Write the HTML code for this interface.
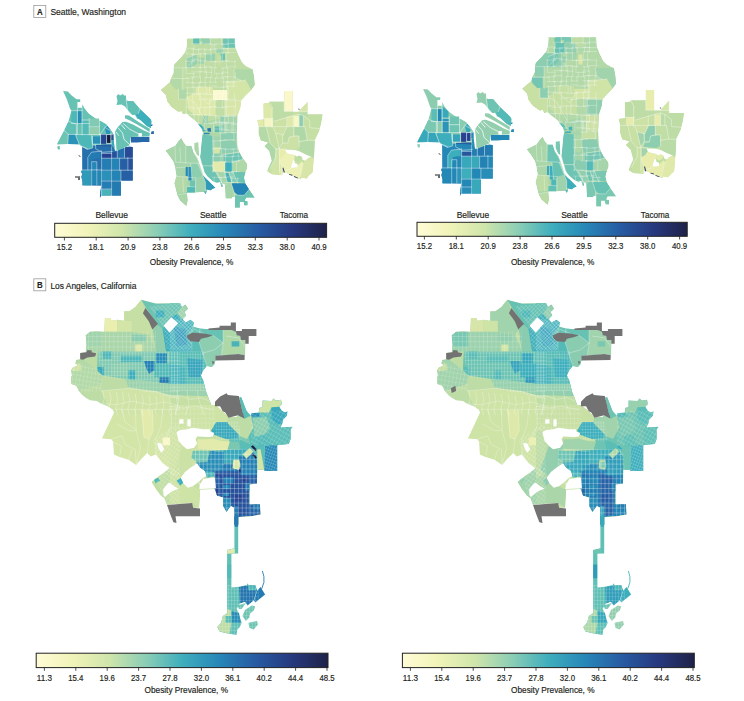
<!DOCTYPE html>
<html><head><meta charset="utf-8"><title>Figure</title>
<style>html,body{margin:0;padding:0;background:#fff}svg{display:block}text{font-family:"Liberation Sans",sans-serif;fill:#231f20;stroke:#231f20;stroke-width:0.18px}</style></head><body>
<svg width="744" height="701" viewBox="0 0 744 701">
<rect width="744" height="701" fill="#fff"/>
<defs><linearGradient id="cb" x1="0" x2="1" y1="0" y2="0">
<stop offset="0.000" stop-color="#fffcd6"/>
<stop offset="0.125" stop-color="#f0f3b8"/>
<stop offset="0.250" stop-color="#cfe5ab"/>
<stop offset="0.375" stop-color="#8bceb5"/>
<stop offset="0.500" stop-color="#3faebd"/>
<stop offset="0.625" stop-color="#2787b8"/>
<stop offset="0.750" stop-color="#275ca3"/>
<stop offset="0.875" stop-color="#27397f"/>
<stop offset="1.000" stop-color="#1f2248"/>
</linearGradient></defs>
<rect x="33.8" y="5.4" width="12" height="12" fill="#fff" stroke="#9a9a9a" stroke-width="0.8"/>
<text x="39.9" y="15.0" font-size="9.6" text-anchor="middle" font-weight="bold" textLength="5.7" lengthAdjust="spacingAndGlyphs">A</text>
<text x="50.4" y="15.1" font-size="9.6" text-anchor="start" textLength="75.7" lengthAdjust="spacingAndGlyphs">Seattle, Washington</text>
<rect x="33.8" y="278.8" width="12" height="12" fill="#fff" stroke="#9a9a9a" stroke-width="0.8"/>
<text x="39.9" y="288.4" font-size="9.6" text-anchor="middle" font-weight="bold" textLength="5.7" lengthAdjust="spacingAndGlyphs">B</text>
<text x="50.4" y="288.5" font-size="9.6" text-anchor="start" textLength="86.0" lengthAdjust="spacingAndGlyphs">Los Angeles, California</text>
<rect x="54.7" y="223.3" width="271.9" height="14.0" fill="url(#cb)" stroke="#222" stroke-width="1"/>
<line x1="64.4" x2="64.4" y1="237.3" y2="240.5" stroke="#222" stroke-width="0.8"/>
<text x="64.4" y="249.6" font-size="8.4" text-anchor="middle" textLength="15.2" lengthAdjust="spacingAndGlyphs">15.2</text>
<line x1="96.2" x2="96.2" y1="237.3" y2="240.5" stroke="#222" stroke-width="0.8"/>
<text x="96.2" y="249.6" font-size="8.4" text-anchor="middle" textLength="15.2" lengthAdjust="spacingAndGlyphs">18.1</text>
<line x1="128.1" x2="128.1" y1="237.3" y2="240.5" stroke="#222" stroke-width="0.8"/>
<text x="128.1" y="249.6" font-size="8.4" text-anchor="middle" textLength="15.2" lengthAdjust="spacingAndGlyphs">20.9</text>
<line x1="159.9" x2="159.9" y1="237.3" y2="240.5" stroke="#222" stroke-width="0.8"/>
<text x="159.9" y="249.6" font-size="8.4" text-anchor="middle" textLength="15.2" lengthAdjust="spacingAndGlyphs">23.8</text>
<line x1="191.7" x2="191.7" y1="237.3" y2="240.5" stroke="#222" stroke-width="0.8"/>
<text x="191.7" y="249.6" font-size="8.4" text-anchor="middle" textLength="15.2" lengthAdjust="spacingAndGlyphs">26.6</text>
<line x1="223.5" x2="223.5" y1="237.3" y2="240.5" stroke="#222" stroke-width="0.8"/>
<text x="223.5" y="249.6" font-size="8.4" text-anchor="middle" textLength="15.2" lengthAdjust="spacingAndGlyphs">29.5</text>
<line x1="255.3" x2="255.3" y1="237.3" y2="240.5" stroke="#222" stroke-width="0.8"/>
<text x="255.3" y="249.6" font-size="8.4" text-anchor="middle" textLength="15.2" lengthAdjust="spacingAndGlyphs">32.3</text>
<line x1="287.2" x2="287.2" y1="237.3" y2="240.5" stroke="#222" stroke-width="0.8"/>
<text x="287.2" y="249.6" font-size="8.4" text-anchor="middle" textLength="15.2" lengthAdjust="spacingAndGlyphs">38.0</text>
<line x1="319.0" x2="319.0" y1="237.3" y2="240.5" stroke="#222" stroke-width="0.8"/>
<text x="319.0" y="249.6" font-size="8.4" text-anchor="middle" textLength="15.2" lengthAdjust="spacingAndGlyphs">40.9</text>
<text x="191.5" y="264.8" font-size="9" text-anchor="middle" textLength="83.5" lengthAdjust="spacingAndGlyphs">Obesity Prevalence, %</text>
<rect x="417.0" y="222.3" width="270.2" height="14.0" fill="url(#cb)" stroke="#222" stroke-width="1"/>
<line x1="424.4" x2="424.4" y1="236.3" y2="239.5" stroke="#222" stroke-width="0.8"/>
<text x="424.4" y="249.2" font-size="8.4" text-anchor="middle" textLength="15.2" lengthAdjust="spacingAndGlyphs">15.2</text>
<line x1="456.3" x2="456.3" y1="236.3" y2="239.5" stroke="#222" stroke-width="0.8"/>
<text x="456.3" y="249.2" font-size="8.4" text-anchor="middle" textLength="15.2" lengthAdjust="spacingAndGlyphs">18.1</text>
<line x1="488.2" x2="488.2" y1="236.3" y2="239.5" stroke="#222" stroke-width="0.8"/>
<text x="488.2" y="249.2" font-size="8.4" text-anchor="middle" textLength="15.2" lengthAdjust="spacingAndGlyphs">20.9</text>
<line x1="520.1" x2="520.1" y1="236.3" y2="239.5" stroke="#222" stroke-width="0.8"/>
<text x="520.1" y="249.2" font-size="8.4" text-anchor="middle" textLength="15.2" lengthAdjust="spacingAndGlyphs">23.8</text>
<line x1="552.0" x2="552.0" y1="236.3" y2="239.5" stroke="#222" stroke-width="0.8"/>
<text x="552.0" y="249.2" font-size="8.4" text-anchor="middle" textLength="15.2" lengthAdjust="spacingAndGlyphs">26.6</text>
<line x1="583.9" x2="583.9" y1="236.3" y2="239.5" stroke="#222" stroke-width="0.8"/>
<text x="583.9" y="249.2" font-size="8.4" text-anchor="middle" textLength="15.2" lengthAdjust="spacingAndGlyphs">29.5</text>
<line x1="615.8" x2="615.8" y1="236.3" y2="239.5" stroke="#222" stroke-width="0.8"/>
<text x="615.8" y="249.2" font-size="8.4" text-anchor="middle" textLength="15.2" lengthAdjust="spacingAndGlyphs">32.3</text>
<line x1="647.7" x2="647.7" y1="236.3" y2="239.5" stroke="#222" stroke-width="0.8"/>
<text x="647.7" y="249.2" font-size="8.4" text-anchor="middle" textLength="15.2" lengthAdjust="spacingAndGlyphs">38.0</text>
<line x1="679.6" x2="679.6" y1="236.3" y2="239.5" stroke="#222" stroke-width="0.8"/>
<text x="679.6" y="249.2" font-size="8.4" text-anchor="middle" textLength="15.2" lengthAdjust="spacingAndGlyphs">40.9</text>
<text x="552.7" y="264.8" font-size="9" text-anchor="middle" textLength="83.5" lengthAdjust="spacingAndGlyphs">Obesity Prevalence, %</text>
<rect x="36.2" y="653.2" width="291.8" height="14.4" fill="url(#cb)" stroke="#222" stroke-width="1"/>
<line x1="44.4" x2="44.4" y1="667.6" y2="670.8" stroke="#222" stroke-width="0.8"/>
<text x="44.4" y="681.3" font-size="8.4" text-anchor="middle" textLength="15.2" lengthAdjust="spacingAndGlyphs">11.3</text>
<line x1="75.8" x2="75.8" y1="667.6" y2="670.8" stroke="#222" stroke-width="0.8"/>
<text x="75.8" y="681.3" font-size="8.4" text-anchor="middle" textLength="15.2" lengthAdjust="spacingAndGlyphs">15.4</text>
<line x1="107.2" x2="107.2" y1="667.6" y2="670.8" stroke="#222" stroke-width="0.8"/>
<text x="107.2" y="681.3" font-size="8.4" text-anchor="middle" textLength="15.2" lengthAdjust="spacingAndGlyphs">19.6</text>
<line x1="138.6" x2="138.6" y1="667.6" y2="670.8" stroke="#222" stroke-width="0.8"/>
<text x="138.6" y="681.3" font-size="8.4" text-anchor="middle" textLength="15.2" lengthAdjust="spacingAndGlyphs">23.7</text>
<line x1="170.0" x2="170.0" y1="667.6" y2="670.8" stroke="#222" stroke-width="0.8"/>
<text x="170.0" y="681.3" font-size="8.4" text-anchor="middle" textLength="15.2" lengthAdjust="spacingAndGlyphs">27.8</text>
<line x1="201.4" x2="201.4" y1="667.6" y2="670.8" stroke="#222" stroke-width="0.8"/>
<text x="201.4" y="681.3" font-size="8.4" text-anchor="middle" textLength="15.2" lengthAdjust="spacingAndGlyphs">32.0</text>
<line x1="232.8" x2="232.8" y1="667.6" y2="670.8" stroke="#222" stroke-width="0.8"/>
<text x="232.8" y="681.3" font-size="8.4" text-anchor="middle" textLength="15.2" lengthAdjust="spacingAndGlyphs">36.1</text>
<line x1="264.2" x2="264.2" y1="667.6" y2="670.8" stroke="#222" stroke-width="0.8"/>
<text x="264.2" y="681.3" font-size="8.4" text-anchor="middle" textLength="15.2" lengthAdjust="spacingAndGlyphs">40.2</text>
<line x1="295.6" x2="295.6" y1="667.6" y2="670.8" stroke="#222" stroke-width="0.8"/>
<text x="295.6" y="681.3" font-size="8.4" text-anchor="middle" textLength="15.2" lengthAdjust="spacingAndGlyphs">44.4</text>
<line x1="327.0" x2="327.0" y1="667.6" y2="670.8" stroke="#222" stroke-width="0.8"/>
<text x="327.0" y="681.3" font-size="8.4" text-anchor="middle" textLength="15.2" lengthAdjust="spacingAndGlyphs">48.5</text>
<text x="186.3" y="692.7" font-size="9" text-anchor="middle" textLength="83.5" lengthAdjust="spacingAndGlyphs">Obesity Prevalence, %</text>
<rect x="402.4" y="653.2" width="291.9" height="14.4" fill="url(#cb)" stroke="#222" stroke-width="1"/>
<line x1="410.4" x2="410.4" y1="667.6" y2="670.8" stroke="#222" stroke-width="0.8"/>
<text x="410.4" y="681.3" font-size="8.4" text-anchor="middle" textLength="15.2" lengthAdjust="spacingAndGlyphs">11.3</text>
<line x1="441.8" x2="441.8" y1="667.6" y2="670.8" stroke="#222" stroke-width="0.8"/>
<text x="441.8" y="681.3" font-size="8.4" text-anchor="middle" textLength="15.2" lengthAdjust="spacingAndGlyphs">15.4</text>
<line x1="473.2" x2="473.2" y1="667.6" y2="670.8" stroke="#222" stroke-width="0.8"/>
<text x="473.2" y="681.3" font-size="8.4" text-anchor="middle" textLength="15.2" lengthAdjust="spacingAndGlyphs">19.6</text>
<line x1="504.6" x2="504.6" y1="667.6" y2="670.8" stroke="#222" stroke-width="0.8"/>
<text x="504.6" y="681.3" font-size="8.4" text-anchor="middle" textLength="15.2" lengthAdjust="spacingAndGlyphs">23.7</text>
<line x1="536.0" x2="536.0" y1="667.6" y2="670.8" stroke="#222" stroke-width="0.8"/>
<text x="536.0" y="681.3" font-size="8.4" text-anchor="middle" textLength="15.2" lengthAdjust="spacingAndGlyphs">27.8</text>
<line x1="567.4" x2="567.4" y1="667.6" y2="670.8" stroke="#222" stroke-width="0.8"/>
<text x="567.4" y="681.3" font-size="8.4" text-anchor="middle" textLength="15.2" lengthAdjust="spacingAndGlyphs">32.0</text>
<line x1="598.8" x2="598.8" y1="667.6" y2="670.8" stroke="#222" stroke-width="0.8"/>
<text x="598.8" y="681.3" font-size="8.4" text-anchor="middle" textLength="15.2" lengthAdjust="spacingAndGlyphs">36.1</text>
<line x1="630.2" x2="630.2" y1="667.6" y2="670.8" stroke="#222" stroke-width="0.8"/>
<text x="630.2" y="681.3" font-size="8.4" text-anchor="middle" textLength="15.2" lengthAdjust="spacingAndGlyphs">40.2</text>
<line x1="661.6" x2="661.6" y1="667.6" y2="670.8" stroke="#222" stroke-width="0.8"/>
<text x="661.6" y="681.3" font-size="8.4" text-anchor="middle" textLength="15.2" lengthAdjust="spacingAndGlyphs">44.4</text>
<line x1="693.0" x2="693.0" y1="667.6" y2="670.8" stroke="#222" stroke-width="0.8"/>
<text x="693.0" y="681.3" font-size="8.4" text-anchor="middle" textLength="15.2" lengthAdjust="spacingAndGlyphs">48.5</text>
<text x="552.8" y="692.7" font-size="9" text-anchor="middle" textLength="83.5" lengthAdjust="spacingAndGlyphs">Obesity Prevalence, %</text>
<text x="111.7" y="217.8" font-size="9" text-anchor="middle" textLength="32.5" lengthAdjust="spacingAndGlyphs">Bellevue</text>
<text x="472.9" y="217.8" font-size="9" text-anchor="middle" textLength="32.5" lengthAdjust="spacingAndGlyphs">Bellevue</text>
<text x="213.2" y="217.8" font-size="9" text-anchor="middle" textLength="26.5" lengthAdjust="spacingAndGlyphs">Seattle</text>
<text x="574.4" y="217.8" font-size="9" text-anchor="middle" textLength="26.5" lengthAdjust="spacingAndGlyphs">Seattle</text>
<text x="293.9" y="217.8" font-size="9" text-anchor="middle" textLength="28.5" lengthAdjust="spacingAndGlyphs">Tacoma</text>
<text x="655.1" y="217.8" font-size="9" text-anchor="middle" textLength="28.5" lengthAdjust="spacingAndGlyphs">Tacoma</text>
<g>
<polygon points="63.1,91.0 67.8,91.4 71.4,95.3 76.4,99.3 80.2,99.3 80.2,102.1 77.4,102.1 77.4,107.8 82.1,107.8 82.5,104.3 84.2,108.1 88.5,113.5 95.6,118.5 101.4,121.4 106.3,124.2 109.9,128.5 112.8,132.8 113.9,140.6 114.5,147.8 82.1,146.6 78.5,144.2 67.8,143.9 57.1,144.3 64.3,130.6 68.5,121.4 71.4,110.7 70.0,108.5 66.8,99.3" fill="#67c2b4"/>
<polygon points="71.4,110.7 77.1,110.7 77.1,123.5 71.4,123.5" fill="#4eb7b8"/>
<polygon points="77.8,110.7 81.7,110.7 81.7,123.5 77.8,123.5" fill="#288eb7"/>
<polygon points="82.5,108.5 88.5,113.5 88.5,120.0 82.5,120.0" fill="#67c2b4"/>
<polygon points="82.5,120.7 88.8,120.7 88.8,134.6 82.5,134.6" fill="#54bab7"/>
<polygon points="89.7,118.5 99.2,118.5 99.2,126.4 89.7,126.4" fill="#82cab1"/>
<polygon points="89.7,127.1 99.2,127.1 99.2,134.9 89.7,134.9" fill="#93cfaf"/>
<polygon points="99.9,120.7 106.3,124.9 104.2,127.8 100.8,134.6 99.9,134.6" fill="#60c0b5"/>
<polygon points="104.9,127.8 107.1,125.7 110.6,130.6 109.9,134.2 106.3,134.2" fill="#2c94b8"/>
<polygon points="68.5,121.4 76.4,124.2 76.4,134.2 68.3,134.2 64.3,130.6" fill="#60c0b5"/>
<polygon points="64.3,130.6 68.3,134.2 67.8,143.9 57.1,144.3" fill="#6ec4b3"/>
<polygon points="68.5,134.6 75.4,134.6 79.2,144.2 67.8,143.9" fill="#2b93b8"/>
<polygon points="76.5,135.2 91.4,135.6 92.8,147.8 87.4,149.5 82.1,146.6 79.2,144.2" fill="#4eb7b8"/>
<polygon points="92.8,136.4 100.2,136.4 100.2,143.8 92.8,143.8" fill="#2a91b8"/>
<polygon points="100.9,134.2 106.5,134.2 106.5,143.8 100.9,143.8" fill="#284593"/>
<polygon points="106.9,134.9 110.6,134.9 110.6,142.9 106.9,142.9" fill="#1c1a3c"/>
<polygon points="111.1,134.2 113.6,134.2 113.6,140.3 111.1,140.3" fill="#27519b"/>
<polygon points="95.6,144.9 111.3,144.2 112.2,151.5 102.1,152.3 95.6,148.8" fill="#275ca3"/>
<polygon points="111.6,140.6 113.6,140.6 115.0,150.9 112.9,151.2" fill="#38a8bb"/>
<polygon points="82.1,145.7 95.6,145.7 112.8,146.4 114.9,150.7 117.8,150.8 124.2,147.8 129.2,146.4 132.7,147.1 132.7,180.6 120.9,180.6 120.9,195.6 101.4,195.6 99.9,198.0 100.2,191.3 101.4,185.9 82.5,185.6 82.5,181.3 81.4,177.1 82.2,174.2 81.1,171.4 82.2,169.9" fill="#256fac"/>
<polygon points="78.5,135.6 91.4,135.6 92.8,147.8 87.4,149.5 82.1,146.6" fill="#4eb7b8"/>
<polygon points="102.1,153.5 111.3,153.5 111.3,157.9 102.1,157.9" fill="#283f8f"/>
<polygon points="112.1,152.1 117.0,152.1 117.0,157.9 112.1,157.9" fill="#27519b"/>
<polygon points="117.8,149.5 124.2,147.8 124.2,157.1 119.9,158.8 117.8,155.7" fill="#256fac"/>
<polygon points="124.9,147.1 132.7,147.1 132.7,157.9 124.9,157.9" fill="#284b97"/>
<polygon points="128.0,157.9 132.7,157.9 132.7,169.9 128.0,169.9" fill="#27519b"/>
<polygon points="119.9,159.2 127.9,159.2 127.9,169.9 119.9,169.9" fill="#275fa5"/>
<polygon points="102.1,158.5 111.3,158.5 111.3,169.9 102.1,169.9" fill="#247eb3"/>
<polygon points="112.1,158.5 119.3,158.5 119.3,169.9 112.1,169.9" fill="#2384b5"/>
<polygon points="102.1,170.6 111.3,170.6 111.3,180.8 102.1,180.8" fill="#2a91b8"/>
<polygon points="112.1,170.6 120.8,170.6 120.8,180.8 112.1,180.8" fill="#2384b5"/>
<polygon points="121.0,170.6 132.7,170.6 132.7,180.6 121.0,180.6" fill="#275fa5"/>
<polygon points="102.1,181.3 111.3,181.3 111.3,188.8 102.1,188.8" fill="#247eb3"/>
<polygon points="101.4,189.3 111.3,189.3 111.3,195.6 101.1,195.6" fill="#48b4ba"/>
<polygon points="112.1,181.3 120.9,181.3 120.9,195.6 112.1,195.6" fill="#247bb1"/>
<polygon points="82.5,169.9 91.4,169.9 91.4,185.6 82.5,185.6 82.5,181.3 81.4,177.1 82.2,174.2 81.1,171.4" fill="#309bb9"/>
<polygon points="92.2,161.7 96.5,161.7 96.5,184.5 92.2,184.5" fill="#2488b6"/>
<polygon points="97.1,169.9 101.4,169.9 101.4,185.0 97.1,185.0" fill="#2488b6"/>
<polygon points="87.8,169.9 87.8,157.4 91.4,152.2 100.6,151.1 100.8,158.2 97.1,158.2 92.8,159.2 91.7,169.9" fill="#247bb1"/>
<polygon points="116.5,96.0 118.5,94.0 120.0,95.5 123.0,94.0 124.0,95.5 126.0,95.5 126.2,100.0 128.0,101.0 133.0,101.0 139.9,109.0 150.4,119.0 151.4,120.9 150.9,127.9 148.9,126.9 146.9,125.9 139.9,119.5 136.9,118.5 135.0,115.0 132.0,115.0 129.0,112.0 125.0,106.5 121.5,104.5 116.5,105.0 117.5,101.0" fill="#67c2b4"/>
<polygon points="126.8,101.5 128.0,101.0 133.0,101.0 139.9,109.0 138.4,113.5 135.0,115.0 132.0,114.5 128.5,110.5" fill="#60c0b5"/>
<polygon points="139.9,109.0 150.4,119.0 151.4,120.9 150.9,127.9 148.9,126.9 146.9,125.9 139.9,119.5 137.1,118.2 135.1,115.0 138.4,113.5" fill="#3caebc"/>
<polygon points="125.0,115.3 129.0,115.6 137.9,121.5 149.9,128.7 149.5,132.1 143.9,128.5 138.9,125.5 130.0,120.5 125.0,118.3" fill="#67c2b4"/>
<polygon points="115.0,131.4 117.5,127.4 122.5,121.9 126.0,121.7 133.0,124.4 143.9,130.4 149.9,132.9 149.4,136.6 130.0,136.9 130.0,144.9 124.0,147.9 116.5,150.9 116.0,140.9" fill="#67c2b4"/>
<polygon points="138.4,133.1 141.9,133.1 141.9,136.6 138.4,136.6" fill="#ffffff"/>
<polygon points="130.5,137.0 149.4,137.0 149.4,141.9 142.9,141.9 136.9,142.5 131.0,142.5" fill="#2668a9"/>
<polygon points="151.4,131.4 153.9,130.9 153.9,133.9 150.9,133.9" fill="#2668a9"/>
<polygon points="150.9,124.7 152.5,124.3 152.3,125.9 150.9,126.1" fill="#2668a9"/>
<polygon points="57.1,146.6 59.7,146.1 60.0,149.2 58.0,149.5" fill="#67c2b4"/>
<path d="M71.4 110.7L82.1 110.7M77.4 107.8L77.4 134.2M82.1 107.8L82.1 134.9M71.4 123.5L89.2 123.5M89.2 118.5L89.2 134.9M99.5 119.2L99.5 134.9M89.2 126.7L99.5 126.7M68.5 121.4L76.4 124.2L76.4 134.6M64.3 130.6L68.3 134.4L67.8 143.9M68.3 134.4L112.8 134.6M75.4 134.6L79.2 144.2M79.2 144.2L82.1 146.6L87.4 149.5L92.8 147.8L91.4 135.6M92.5 136.1L92.5 144.2L100.6 144.2M100.6 134.2L100.6 144.2M106.6 134.6L106.6 143.8L111.3 143.8M110.9 133.5L110.9 143.8M95.6 144.6L95.6 148.8L102.1 152.3L112.2 151.5M82.5 120.0L89.2 120.0M99.9 134.6L104.9 127.5L107.1 125.7M104.9 127.5L110.6 130.6M101.6 150.7L101.6 195.6M111.6 147.1L111.6 195.6M101.6 158.2L132.7 158.2M101.6 170.2L132.7 170.2M101.6 181.1L120.9 181.1M101.6 189.0L111.6 189.0M119.6 158.5L119.6 170.2M127.9 157.4L127.9 170.2M124.5 147.4L124.5 157.4M117.3 150.0L117.3 157.9M101.6 153.4L111.6 153.4M120.9 170.2L120.9 181.1M87.8 169.9L87.8 157.4L91.4 152.2L100.9 151.1M91.7 169.9L91.7 161.7L96.8 161.7L96.8 169.9M82.5 169.9L101.6 169.9M91.7 169.9L91.7 185.6M96.8 169.9L96.8 185.0M82.1 146.4L87.4 148.5" fill="none" stroke="#fff" stroke-width="0.55" stroke-opacity="0.8" stroke-linejoin="round" stroke-linecap="round"/>
<path d="M82.5 185.6L101.6 185.6" fill="none" stroke="#fff" stroke-width="0.4" stroke-opacity="0.8" stroke-linejoin="round" stroke-linecap="round"/>
<path d="M126.2 100.0L127.5 110.0L132.0 115.0M135.0 115.0L137.1 118.2" fill="none" stroke="#fff" stroke-width="0.6" stroke-opacity="0.8" stroke-linejoin="round" stroke-linecap="round"/>
<path d="M138.4 113.5L139.9 109.0" fill="none" stroke="#fff" stroke-width="0.5" stroke-opacity="0.8" stroke-linejoin="round" stroke-linecap="round"/>
<path d="M118.0 127.9L122.5 132.9L124.0 139.4L130.0 144.9M116.0 131.9L118.5 135.4M123.5 123.7L130.0 129.4L138.4 133.7" fill="none" stroke="#fff" stroke-width="0.9" stroke-opacity="0.8" stroke-linejoin="round" stroke-linecap="round"/>
<path d="M121.5 124.9L125.0 129.1" fill="none" stroke="#fff" stroke-width="1.0" stroke-opacity="0.8" stroke-linejoin="round" stroke-linecap="round"/>
<polygon points="75.0,176.3 80.0,176.3 80.0,179.9 78.0,179.9 78.0,177.8 75.0,177.8" fill="#6b6b6b"/>
<polygon points="78.2,155.4 79.1,155.1 80.8,156.8 80.2,157.2" fill="#6b6b6b"/>
</g>
<g>
<polygon points="423.1,89.0 427.8,89.4 431.4,93.3 436.4,97.3 440.2,97.3 440.2,100.1 437.4,100.1 437.4,105.8 442.1,105.8 442.5,102.3 444.2,106.1 448.5,111.5 455.6,116.5 461.4,119.4 466.3,122.2 469.9,126.5 472.8,130.8 473.9,138.6 474.5,145.8 442.1,144.6 438.5,142.2 427.8,141.9 417.1,142.3 424.3,128.6 428.5,119.4 431.4,108.7 430.0,106.5 426.8,97.3" fill="#8ccdb0"/>
<polygon points="431.4,108.7 437.1,108.7 437.1,121.5 431.4,121.5" fill="#5abdb6"/>
<polygon points="437.8,108.7 441.7,108.7 441.7,121.5 437.8,121.5" fill="#2488b6"/>
<polygon points="442.5,106.5 448.5,111.5 448.5,118.0 442.5,118.0" fill="#38a8bb"/>
<polygon points="442.5,118.7 448.8,118.7 448.8,132.6 442.5,132.6" fill="#2c94b8"/>
<polygon points="449.7,116.5 459.2,116.5 459.2,124.4 449.7,124.4" fill="#6ec4b3"/>
<polygon points="449.7,125.1 459.2,125.1 459.2,132.9 449.7,132.9" fill="#6ec4b3"/>
<polygon points="459.9,118.7 466.3,122.9 464.2,125.8 460.8,132.6 459.9,132.6" fill="#89ccb0"/>
<polygon points="464.9,125.8 467.1,123.7 470.6,128.6 469.9,132.2 466.3,132.2" fill="#38a8bb"/>
<polygon points="428.5,119.4 436.4,122.2 436.4,132.2 428.3,132.2 424.3,128.6" fill="#7bc8b2"/>
<polygon points="424.3,128.6 428.3,132.2 427.8,141.9 417.1,142.3" fill="#38a8bb"/>
<polygon points="428.5,132.6 435.4,132.6 439.2,142.2 427.8,141.9" fill="#36a4bb"/>
<polygon points="436.5,133.2 451.4,133.6 452.8,145.8 447.4,147.5 442.1,144.6 439.2,142.2" fill="#3caebc"/>
<polygon points="452.8,134.4 460.2,134.4 460.2,141.8 452.8,141.8" fill="#36a4bb"/>
<polygon points="460.9,132.2 466.5,132.2 466.5,141.8 460.9,141.8" fill="#284291"/>
<polygon points="466.9,132.9 470.6,132.9 470.6,140.9 466.9,140.9" fill="#283f8f"/>
<polygon points="471.1,132.2 473.6,132.2 473.6,138.3 471.1,138.3" fill="#2488b6"/>
<polygon points="455.6,142.9 471.3,142.2 472.2,149.5 462.1,150.3 455.6,146.8" fill="#275ca3"/>
<polygon points="471.6,138.6 473.6,138.6 475.0,148.9 472.9,149.2" fill="#288eb7"/>
<polygon points="442.1,143.7 455.6,143.7 472.8,144.4 474.9,148.7 477.8,148.8 484.2,145.8 489.2,144.4 492.7,145.1 492.7,178.6 480.9,178.6 480.9,193.6 461.4,193.6 459.9,196.0 460.2,189.3 461.4,183.9 442.5,183.6 442.5,179.3 441.4,175.1 442.2,172.2 441.1,169.4 442.2,167.9" fill="#2488b6"/>
<polygon points="438.5,133.6 451.4,133.6 452.8,145.8 447.4,147.5 442.1,144.6" fill="#3caebc"/>
<polygon points="462.1,151.5 471.3,151.5 471.3,155.9 462.1,155.9" fill="#27569f"/>
<polygon points="472.1,150.1 477.0,150.1 477.0,155.9 472.1,155.9" fill="#247bb1"/>
<polygon points="477.8,147.5 484.2,145.8 484.2,155.1 479.9,156.8 477.8,153.7" fill="#2575af"/>
<polygon points="484.9,145.1 492.7,145.1 492.7,155.9 484.9,155.9" fill="#247bb1"/>
<polygon points="488.0,155.9 492.7,155.9 492.7,167.9 488.0,167.9" fill="#2488b6"/>
<polygon points="479.9,157.2 487.9,157.2 487.9,167.9 479.9,167.9" fill="#2381b4"/>
<polygon points="462.1,156.5 471.3,156.5 471.3,167.9 462.1,167.9" fill="#38a8bb"/>
<polygon points="472.1,156.5 479.3,156.5 479.3,167.9 472.1,167.9" fill="#38a8bb"/>
<polygon points="462.1,168.6 471.3,168.6 471.3,178.8 462.1,178.8" fill="#3caebc"/>
<polygon points="472.1,168.6 480.8,168.6 480.8,178.8 472.1,178.8" fill="#2488b6"/>
<polygon points="481.0,168.6 492.7,168.6 492.7,178.6 481.0,178.6" fill="#288eb7"/>
<polygon points="462.1,179.3 471.3,179.3 471.3,186.8 462.1,186.8" fill="#2488b6"/>
<polygon points="461.4,187.3 471.3,187.3 471.3,193.6 461.1,193.6" fill="#288eb7"/>
<polygon points="472.1,179.3 480.9,179.3 480.9,193.6 472.1,193.6" fill="#38a8bb"/>
<polygon points="442.5,167.9 451.4,167.9 451.4,183.6 442.5,183.6 442.5,179.3 441.4,175.1 442.2,172.2 441.1,169.4" fill="#2488b6"/>
<polygon points="452.2,159.7 456.5,159.7 456.5,182.5 452.2,182.5" fill="#2488b6"/>
<polygon points="457.1,167.9 461.4,167.9 461.4,183.0 457.1,183.0" fill="#2c94b8"/>
<polygon points="447.8,167.9 447.8,155.4 451.4,150.2 460.6,149.1 460.8,156.2 457.1,156.2 452.8,157.2 451.7,167.9" fill="#3caebc"/>
<polygon points="476.5,94.0 478.5,92.0 480.0,93.5 483.0,92.0 484.0,93.5 486.0,93.5 486.2,98.0 488.0,99.0 493.0,99.0 499.9,107.0 510.4,117.0 511.4,118.9 510.9,125.9 508.9,124.9 506.9,123.9 499.9,117.5 496.9,116.5 495.0,113.0 492.0,113.0 489.0,110.0 485.0,104.5 481.5,102.5 476.5,103.0 477.5,99.0" fill="#93cfaf"/>
<polygon points="486.8,99.5 488.0,99.0 493.0,99.0 499.9,107.0 498.4,111.5 495.0,113.0 492.0,112.5 488.5,108.5" fill="#6ec4b3"/>
<polygon points="499.9,107.0 510.4,117.0 511.4,118.9 510.9,125.9 508.9,124.9 506.9,123.9 499.9,117.5 497.1,116.2 495.1,113.0 498.4,111.5" fill="#54bab7"/>
<polygon points="485.0,113.3 489.0,113.6 497.9,119.5 509.9,126.7 509.5,130.1 503.9,126.5 498.9,123.5 490.0,118.5 485.0,116.3" fill="#93cfaf"/>
<polygon points="475.0,129.4 477.5,125.4 482.5,119.9 486.0,119.7 493.0,122.4 503.9,128.4 509.9,130.9 509.4,134.6 490.0,134.9 490.0,142.9 484.0,145.9 476.5,148.9 476.0,138.9" fill="#93cfaf"/>
<polygon points="498.4,131.1 501.9,131.1 501.9,134.6 498.4,134.6" fill="#ffffff"/>
<polygon points="490.5,135.0 509.4,135.0 509.4,139.9 502.9,139.9 496.9,140.5 491.0,140.5" fill="#2488b6"/>
<polygon points="511.4,129.4 513.9,128.9 513.9,131.9 510.9,131.9" fill="#2488b6"/>
<polygon points="510.9,122.7 512.5,122.3 512.3,123.9 510.9,124.1" fill="#2488b6"/>
<polygon points="417.1,144.6 419.7,144.1 420.0,147.2 418.0,147.5" fill="#8ccdb0"/>
<path d="M431.4 108.7L442.1 108.7M437.4 105.8L437.4 132.2M442.1 105.8L442.1 132.9M431.4 121.5L449.2 121.5M449.2 116.5L449.2 132.9M459.5 117.2L459.5 132.9M449.2 124.7L459.5 124.7M428.5 119.4L436.4 122.2L436.4 132.6M424.3 128.6L428.3 132.4L427.8 141.9M428.3 132.4L472.8 132.6M435.4 132.6L439.2 142.2M439.2 142.2L442.1 144.6L447.4 147.5L452.8 145.8L451.4 133.6M452.5 134.1L452.5 142.2L460.6 142.2M460.6 132.2L460.6 142.2M466.6 132.6L466.6 141.8L471.3 141.8M470.9 131.5L470.9 141.8M455.6 142.6L455.6 146.8L462.1 150.3L472.2 149.5M442.5 118.0L449.2 118.0M459.9 132.6L464.9 125.5L467.1 123.7M464.9 125.5L470.6 128.6M461.6 148.7L461.6 193.6M471.6 145.1L471.6 193.6M461.6 156.2L492.7 156.2M461.6 168.2L492.7 168.2M461.6 179.1L480.9 179.1M461.6 187.0L471.6 187.0M479.6 156.5L479.6 168.2M487.9 155.4L487.9 168.2M484.5 145.4L484.5 155.4M477.3 148.0L477.3 155.9M461.6 151.4L471.6 151.4M480.9 168.2L480.9 179.1M447.8 167.9L447.8 155.4L451.4 150.2L460.9 149.1M451.7 167.9L451.7 159.7L456.8 159.7L456.8 167.9M442.5 167.9L461.6 167.9M451.7 167.9L451.7 183.6M456.8 167.9L456.8 183.0M442.1 144.4L447.4 146.5" fill="none" stroke="#fff" stroke-width="0.55" stroke-opacity="0.8" stroke-linejoin="round" stroke-linecap="round"/>
<path d="M442.5 183.6L461.6 183.6" fill="none" stroke="#fff" stroke-width="0.4" stroke-opacity="0.8" stroke-linejoin="round" stroke-linecap="round"/>
<path d="M486.2 98.0L487.5 108.0L492.0 113.0M495.0 113.0L497.1 116.2" fill="none" stroke="#fff" stroke-width="0.6" stroke-opacity="0.8" stroke-linejoin="round" stroke-linecap="round"/>
<path d="M498.4 111.5L499.9 107.0" fill="none" stroke="#fff" stroke-width="0.5" stroke-opacity="0.8" stroke-linejoin="round" stroke-linecap="round"/>
<path d="M478.0 125.9L482.5 130.9L484.0 137.4L490.0 142.9M476.0 129.9L478.5 133.4M483.5 121.7L490.0 127.4L498.4 131.7" fill="none" stroke="#fff" stroke-width="0.9" stroke-opacity="0.8" stroke-linejoin="round" stroke-linecap="round"/>
<path d="M481.5 122.9L485.0 127.1" fill="none" stroke="#fff" stroke-width="1.0" stroke-opacity="0.8" stroke-linejoin="round" stroke-linecap="round"/>
<polygon points="435.0,174.3 440.0,174.3 440.0,177.9 438.0,177.9 438.0,175.8 435.0,175.8" fill="#6b6b6b"/>
<polygon points="438.2,153.4 439.1,153.1 440.8,154.8 440.2,155.2" fill="#6b6b6b"/>
</g>
<g><defs><clipPath id="se0">
<polygon points="187.1,38.3 234.9,38.3 235.6,47.8 238.5,55.0 242.0,62.1 245.6,65.7 252.7,69.2 254.2,77.1 254.9,84.9 251.3,89.9 245.6,95.6 241.3,100.6 240.6,107.0 237.7,115.6 237.0,129.9 205.6,129.9 202.8,128.4 199.9,125.6 195.7,121.3 188.5,115.6 186.4,113.5 182.8,114.2 181.4,111.3 178.5,112.0 171.4,107.0 167.1,101.3 165.7,94.9 160.7,89.9 165.0,86.3 170.0,82.1 170.7,78.5 173.6,72.8 173.6,67.8 174.3,64.2 180.0,58.5 183.5,54.3 185.0,52.1 186.8,45.7"/>
<polygon points="197.4,123.6 237.0,115.0 237.0,132.1 237.7,146.4 239.9,152.8 242.7,157.8 247.0,163.5 247.3,167.8 245.6,172.1 244.2,177.8 245.6,183.5 249.2,189.2 254.9,197.7 246.3,197.7 244.9,200.6 247.7,201.3 247.7,205.6 244.2,205.6 243.5,202.0 239.9,202.0 239.9,207.7 234.9,207.7 234.9,197.0 232.0,197.0 232.0,198.5 225.6,198.5 224.9,184.9 222.8,183.5 222.8,187.0 221.3,187.0 219.9,182.0 217.1,183.2 212.8,181.3 207.1,176.3 204.2,172.1 202.8,167.1 201.4,163.5 199.9,157.8 200.7,152.1 201.4,143.5 202.1,137.8 202.8,133.5 201.4,128.6"/>
<polygon points="181.4,137.8 183.5,142.1 186.4,145.7 191.4,145.7 193.5,152.1 197.4,157.8 199.7,163.5 201.7,169.2 203.5,174.9 207.1,179.2 212.8,184.9 215.6,187.8 212.1,189.2 210.6,190.6 207.1,189.9 205.6,194.2 203.5,192.0 195.0,192.7 187.1,192.7 187.8,200.6 186.4,206.3 180.0,200.6 177.1,194.9 176.4,192.0 174.3,183.5 176.4,176.3 175.0,167.8 173.6,162.1 170.0,156.4 165.4,150.4 175.0,145.7 178.5,140.7"/>
<polygon points="194.2,142.8 198.5,142.1 199.2,156.4 196.8,154.9 194.2,149.2"/>
</clipPath></defs><g clip-path="url(#se0)">
<polygon points="187.1,38.3 234.9,38.3 235.6,47.8 238.5,55.0 242.0,62.1 245.6,65.7 252.7,69.2 254.2,77.1 254.9,84.9 251.3,89.9 245.6,95.6 241.3,100.6 240.6,107.0 237.7,115.6 237.0,129.9 205.6,129.9 202.8,128.4 199.9,125.6 195.7,121.3 188.5,115.6 186.4,113.5 182.8,114.2 181.4,111.3 178.5,112.0 171.4,107.0 167.1,101.3 165.7,94.9 160.7,89.9 165.0,86.3 170.0,82.1 170.7,78.5 173.6,72.8 173.6,67.8 174.3,64.2 180.0,58.5 183.5,54.3 185.0,52.1 186.8,45.7" fill="#bfdda5"/>
<polygon points="180.0,58.5 183.5,54.3 201.4,54.3 201.4,68.5 173.6,68.5 174.3,64.2" fill="#bddca6"/>
<polygon points="193.1,38.3 199.4,38.3 199.4,44.3 193.1,44.3" fill="#60c0b5"/>
<polygon points="199.7,38.3 209.9,38.3 209.9,44.3 202.8,44.3 202.8,41.4 199.7,41.4" fill="#93cfaf"/>
<polygon points="210.6,38.3 222.8,38.3 222.8,47.8 210.6,47.8" fill="#b8dba7"/>
<polygon points="223.1,38.3 235.0,38.3 235.0,47.8 223.1,47.8" fill="#6ec4b3"/>
<polygon points="215.6,48.5 224.2,48.5 224.2,52.8 215.6,52.8" fill="#9cd2ad"/>
<polygon points="205.6,53.5 215.1,53.5 215.1,60.8 205.6,60.8" fill="#98d1ae"/>
<polygon points="220.6,53.5 225.0,53.5 225.0,60.8 220.6,60.8" fill="#6ec4b3"/>
<polygon points="187.1,57.8 196.4,54.3 197.4,63.5 190.7,67.8 187.1,67.8" fill="#98d1ae"/>
<polygon points="198.5,57.8 204.5,57.8 204.5,63.7 198.5,63.7" fill="#a1d3ac"/>
<polygon points="193.7,44.3 202.8,44.3 202.8,54.3 193.7,54.3" fill="#bddca6"/>
<polygon points="202.8,44.3 214.9,44.3 214.9,53.5 202.8,53.5" fill="#bddca6"/>
<polygon points="173.6,67.8 182.8,67.8 182.8,77.8 173.6,77.8 173.6,72.8" fill="#b8dba7"/>
<polygon points="170.7,78.5 181.4,78.5 181.4,89.9 175.7,89.2 171.4,84.9 170.0,82.1" fill="#b3d9a8"/>
<polygon points="178.5,89.2 186.4,89.2 186.4,99.2 178.5,99.2" fill="#afd8a9"/>
<polygon points="234.2,69.2 252.7,69.2 254.2,77.1 254.9,84.9 251.3,89.9 245.6,79.9 242.0,81.1 234.2,77.1" fill="#afd8a9"/>
<polygon points="227.0,81.6 241.6,80.8 245.6,79.9 251.3,89.9 245.6,95.6 241.3,100.6 227.0,99.9" fill="#d4e5a8"/>
<polygon points="224.9,100.6 241.3,100.6 240.6,107.0 237.7,115.6 224.9,115.6" fill="#d7e6a8"/>
<polygon points="212.8,89.9 227.0,89.9 227.0,99.9 212.8,99.9" fill="#fbf9cf"/>
<polygon points="195.7,87.1 212.8,87.1 212.8,99.9 215.6,100.6 215.6,115.6 195.7,115.6 188.5,109.9 186.4,97.0 195.7,92.8" fill="#dce9aa"/>
<polygon points="224.9,116.3 237.3,116.3 237.3,129.9 224.9,129.9" fill="#a1d3ac"/>
<polygon points="219.9,116.3 224.5,116.3 224.5,129.9 219.9,129.9" fill="#89ccb0"/>
<polygon points="214.9,127.0 219.5,127.0 219.5,129.9 214.9,129.9" fill="#4eb7b8"/>
<polygon points="160.7,89.9 165.0,86.3 170.0,82.1 171.4,84.9 175.7,89.2 178.5,89.2 178.5,99.2 186.4,99.2 186.4,113.5 182.8,114.2 181.4,111.3 178.5,112.0 171.4,107.0 167.1,101.3 165.7,94.9" fill="#c9e0a5"/>
<polygon points="217.1,55.7 221.3,55.7 221.3,65.7 217.1,65.7" fill="#c6dfa4"/>
<polygon points="197.4,123.6 237.0,115.0 237.0,132.1 237.7,146.4 239.9,152.8 242.7,157.8 247.0,163.5 247.3,167.8 245.6,172.1 244.2,177.8 245.6,183.5 249.2,189.2 254.9,197.7 246.3,197.7 244.9,200.6 247.7,201.3 247.7,205.6 244.2,205.6 243.5,202.0 239.9,202.0 239.9,207.7 234.9,207.7 234.9,197.0 232.0,197.0 232.0,198.5 225.6,198.5 224.9,184.9 222.8,183.5 222.8,187.0 221.3,187.0 219.9,182.0 217.1,183.2 212.8,181.3 207.1,176.3 204.2,172.1 202.8,167.1 201.4,163.5 199.9,157.8 200.7,152.1 201.4,143.5 202.1,137.8 202.8,133.5 201.4,128.6" fill="#afd8a9"/>
<polygon points="224.9,116.4 237.0,116.4 237.0,132.1 224.9,132.1" fill="#a6d5ab"/>
<polygon points="202.1,134.3 212.8,135.7 212.8,149.2 213.6,162.1 212.2,165.8 202.8,165.8 200.2,157.8 201.4,143.5" fill="#6ec4b3"/>
<polygon points="202.8,166.1 212.2,166.1 217.1,174.9 222.2,183.5 222.8,187.0 221.3,187.0 219.9,182.0 217.1,183.2 212.8,181.3 207.1,176.3 204.2,172.1" fill="#6ec4b3"/>
<polygon points="213.5,136.4 219.9,136.4 219.9,148.7 213.5,148.7" fill="#a1d3ac"/>
<polygon points="213.6,149.2 221.3,149.2 222.8,162.1 213.9,162.1" fill="#8eceb0"/>
<polygon points="220.6,132.8 235.9,132.8 235.9,140.1 220.6,140.1" fill="#8eceb0"/>
<polygon points="219.9,140.7 235.6,140.7 237.7,151.4 222.8,154.4 221.3,149.2" fill="#8eceb0"/>
<polygon points="223.5,154.9 239.3,152.4 242.7,159.2 232.0,162.1 223.5,161.5" fill="#6ec4b3"/>
<polygon points="232.8,162.4 242.7,159.5 247.3,164.2 247.0,168.5 245.6,171.5 233.0,171.5" fill="#afd8a9"/>
<polygon points="225.0,162.1 232.2,162.1 232.2,171.5 225.0,171.5" fill="#3caebc"/>
<polygon points="212.8,161.5 225.0,161.5 225.0,171.5 212.8,171.5" fill="#e2ebab"/>
<polygon points="213.9,147.2 219.9,147.2 219.9,153.5 213.9,153.5" fill="#d4e5a8"/>
<polygon points="217.1,172.1 224.9,172.1 227.0,182.0 222.2,183.5" fill="#a6d5ab"/>
<polygon points="224.9,172.8 228.5,172.8 231.3,182.0 227.3,182.0" fill="#48b4ba"/>
<polygon points="229.2,172.1 232.8,172.1 237.0,182.0 232.0,182.0" fill="#82cab1"/>
<polygon points="233.5,172.1 245.6,172.1 244.2,177.8 245.3,182.9 237.0,182.0" fill="#6ec4b3"/>
<polygon points="231.3,183.2 245.3,183.2 249.2,189.2 244.2,195.2 237.7,194.9 234.2,192.0" fill="#2384b5"/>
<polygon points="234.9,194.9 244.2,195.2 249.2,189.5 254.9,197.7 246.3,197.7 244.9,200.6 247.7,201.3 247.7,205.6 244.2,205.6 243.5,202.0 239.9,202.0 239.9,207.7 234.9,207.7" fill="#6ec4b3"/>
<polygon points="224.9,183.5 231.3,183.2 234.2,192.7 234.2,197.5 232.0,198.5 225.6,198.5" fill="#a6d5ab"/>
<polygon points="197.8,123.9 200.3,124.6 202.8,126.4 205.7,130.7 203.5,131.7 201.4,128.5 199.3,126.0" fill="#3caebc"/>
<polygon points="207.1,128.5 210.7,127.8 211.0,131.7 207.8,131.4" fill="#2575af"/>
<polygon points="203.9,132.8 209.6,132.8 209.6,134.2 203.9,134.2" fill="#2488b6"/>
<polygon points="220.0,125.0 223.9,125.0 223.9,132.1 220.0,132.1" fill="#6ec4b3"/>
<polygon points="220.0,116.1 223.9,116.1 223.9,124.3 220.0,124.3" fill="#93cfaf"/>
<polygon points="202.8,115.7 207.8,115.7 207.8,123.5 202.8,123.5" fill="#9cd2ad"/>
<polygon points="214.9,126.4 219.3,126.4 219.3,132.1 214.9,132.1" fill="#5abdb6"/>
<polygon points="219.9,125.0 224.5,125.0 224.5,132.1 219.9,132.1" fill="#89ccb0"/>
<polygon points="181.4,137.8 183.5,142.1 186.4,145.7 191.4,145.7 193.5,152.1 197.4,157.8 199.7,163.5 201.7,169.2 203.5,174.9 207.1,179.2 212.8,184.9 215.6,187.8 212.1,189.2 210.6,190.6 207.1,189.9 205.6,194.2 203.5,192.0 195.0,192.7 187.1,192.7 187.8,200.6 186.4,206.3 180.0,200.6 177.1,194.9 176.4,192.0 174.3,183.5 176.4,176.3 175.0,167.8 173.6,162.1 170.0,156.4 165.4,150.4 175.0,145.7 178.5,140.7" fill="#a6d5ab"/>
<polygon points="194.2,142.8 198.5,142.1 199.2,156.4 196.8,154.9 194.2,149.2" fill="#aad6aa"/>
<polygon points="186.4,145.7 191.4,145.7 193.5,152.1 197.4,157.8 199.7,163.5 190.7,163.5 185.7,163.5" fill="#a1d3ac"/>
<polygon points="185.7,167.1 188.0,167.1 188.0,176.3 185.7,176.3" fill="#2488b6"/>
<polygon points="188.2,167.1 191.7,167.1 191.7,180.6 188.2,180.6" fill="#288eb7"/>
<polygon points="202.8,175.6 207.1,179.2 215.6,187.8 210.6,190.6 205.6,189.2 205.4,182.0" fill="#309bb9"/>
<polygon points="186.4,187.0 195.0,187.0 195.0,192.7 186.4,192.7" fill="#54bab7"/>
<polygon points="190.0,180.6 195.0,180.6 195.0,187.0 190.0,187.0" fill="#6ec4b3"/>
<polygon points="190.7,163.5 197.8,163.5 202.8,175.6 195.7,179.9 192.1,179.9" fill="#8eceb0"/>
<polygon points="195.7,177.8 202.8,176.3 205.4,182.0 205.4,192.0 195.7,192.0" fill="#9cd2ad"/>
<polygon points="175.0,176.3 187.1,176.3 187.1,192.0 177.8,192.7 174.3,183.5" fill="#b3d9a8"/>
<polygon points="165.4,150.4 175.0,145.7 175.7,162.1 173.6,162.1 170.0,156.4" fill="#aad6aa"/>
<polygon points="177.1,194.9 187.1,193.2 187.8,200.6 186.4,206.3 180.0,200.6" fill="#aad6aa"/>
<polygon points="204.2,191.3 207.1,190.6 207.8,194.2 205.6,194.9" fill="#3caebc"/>
<path d="M186.2 38.3L186.2 44.3M186.0 44.3L186.0 48.8M186.8 48.8L186.8 53.5M185.9 60.7L185.9 67.8M186.0 67.8L186.0 72.8M187.9 77.8L187.9 82.8M187.4 87.1L187.4 93.5M187.3 93.5L187.3 99.9M188.3 99.9L188.3 107.7M186.6 115.6L186.6 122.7M193.9 44.3L193.9 48.8M193.3 48.8L193.3 53.5M192.8 53.5L192.8 60.7M192.0 60.7L192.0 67.8M193.6 72.8L193.6 77.8M192.6 77.8L192.6 82.8M193.0 82.8L193.0 87.1M193.9 87.1L193.9 93.5M192.4 93.5L192.4 99.9M193.2 99.9L193.2 107.7M193.7 107.7L193.7 115.6M194.3 115.6L194.3 122.7M200.3 38.3L200.3 44.3M198.5 48.8L198.5 53.5M200.3 53.5L200.3 60.7M200.6 60.7L200.6 67.8M200.2 67.8L200.2 72.8M199.9 72.8L199.9 77.8M200.5 77.8L200.5 82.8M199.6 82.8L199.6 87.1M198.5 87.1L198.5 93.5M200.0 93.5L200.0 99.9M200.5 99.9L200.5 107.7M199.4 107.7L199.4 115.6M198.4 115.6L198.4 122.7M198.8 122.7L198.8 129.9M204.7 48.8L204.7 53.5M205.4 53.5L205.4 60.7M204.6 60.7L204.6 67.8M205.8 67.8L205.8 72.8M206.5 72.8L206.5 77.8M205.1 77.8L205.1 82.8M205.3 82.8L205.3 87.1M206.8 87.1L206.8 93.5M205.0 107.7L205.0 115.6M205.9 115.6L205.9 122.7M204.4 122.7L204.4 129.9M210.3 38.3L210.3 44.3M211.8 44.3L211.8 48.8M210.7 48.8L210.7 53.5M211.1 53.5L211.1 60.7M211.4 67.8L211.4 72.8M211.4 72.8L211.4 77.8M210.4 77.8L210.4 82.8M209.5 87.1L209.5 93.5M209.8 99.9L209.8 107.7M209.5 107.7L209.5 115.6M214.4 44.3L214.4 48.8M215.9 48.8L215.9 53.5M215.2 60.7L215.2 67.8M214.7 67.8L214.7 72.8M216.9 72.8L216.9 77.8M215.6 77.8L215.6 82.8M215.0 93.5L215.0 99.9M214.8 99.9L214.8 107.7M215.7 115.6L215.7 122.7M221.6 38.3L221.6 44.3M224.0 44.3L224.0 48.8M223.3 48.8L223.3 53.5M222.4 53.5L222.4 60.7M222.9 67.8L222.9 72.8M222.3 72.8L222.3 77.8M223.6 77.8L223.6 82.8M223.7 82.8L223.7 87.1M223.6 87.1L223.6 93.5M222.1 93.5L222.1 99.9M222.4 99.9L222.4 107.7M222.1 122.7L222.1 129.9M228.2 38.3L228.2 44.3M228.2 44.3L228.2 48.8M228.2 48.8L228.2 53.5M226.3 53.5L226.3 60.7M226.3 60.7L226.3 67.8M227.4 67.8L227.4 72.8M227.9 72.8L227.9 77.8M227.4 77.8L227.4 82.8M226.0 82.8L226.0 87.1M228.1 87.1L228.1 93.5M227.7 93.5L227.7 99.9M226.2 99.9L226.2 107.7M226.6 107.7L226.6 115.6M228.3 115.6L228.3 122.7M226.8 122.7L226.8 129.9M234.8 38.3L234.8 44.3M235.0 60.7L235.0 67.8M235.4 72.8L235.4 77.8M233.8 77.8L233.8 82.8M233.2 82.8L233.2 87.1M234.6 93.5L234.6 99.9M235.3 99.9L235.3 107.7M235.1 107.7L235.1 115.6M233.4 115.6L233.4 122.7M233.6 122.7L233.6 129.9M185.8 38.5L194.4 38.5M191.8 38.1L200.9 38.1M204.4 37.9L211.9 37.9M209.4 38.5L216.9 38.5M214.4 38.1L224.1 38.1M221.5 38.3L228.3 38.3M225.8 38.3L235.5 38.3M191.8 43.5L200.9 43.5M204.4 43.5L211.9 43.5M209.4 44.8L216.9 44.8M214.4 43.9L224.1 43.9M221.5 44.4L228.3 44.4M225.8 43.4L235.5 43.4M185.8 48.3L194.4 48.3M191.8 49.5L200.9 49.5M198.4 49.0L206.9 49.0M204.4 49.8L211.9 49.8M209.4 49.1L216.9 49.1M214.4 48.9L224.1 48.9M221.5 48.7L228.3 48.7M225.8 48.8L235.5 48.8M185.8 54.0L194.4 54.0M191.8 54.5L200.9 54.5M198.4 53.7L206.9 53.7M204.4 54.3L211.9 54.3M221.5 52.6L228.3 52.6M225.8 52.6L235.5 52.6M185.8 61.3L194.4 61.3M191.8 59.9L200.9 59.9M198.4 61.0L206.9 61.0M209.4 61.7L216.9 61.7M214.4 61.7L224.1 61.7M221.5 60.6L228.3 60.6M225.8 61.4L235.5 61.4M185.8 67.6L194.4 67.6M191.8 67.4L200.9 67.4M198.4 67.4L206.9 67.4M204.4 66.7L211.9 66.7M209.4 67.7L216.9 67.7M221.5 68.1L228.3 68.1M225.8 66.8L235.5 66.8M185.8 73.5L194.4 73.5M191.8 71.9L200.9 71.9M198.4 71.7L206.9 71.7M204.4 72.3L211.9 72.3M214.4 73.7L224.1 73.7M221.5 72.2L228.3 72.2M185.8 78.0L194.4 78.0M191.8 76.9L200.9 76.9M204.4 77.6L211.9 77.6M214.4 78.1L224.1 78.1M221.5 76.8L228.3 76.8M225.8 76.8L235.5 76.8M185.8 82.7L194.4 82.7M191.8 82.9L200.9 82.9M198.4 82.3L206.9 82.3M209.4 82.2L216.9 82.2M221.5 81.8L228.3 81.8M225.8 82.4L235.5 82.4M185.8 87.7L194.4 87.7M191.8 87.1L200.9 87.1M198.4 86.7L206.9 86.7M209.4 86.0L216.9 86.0M214.4 87.2L224.1 87.2M221.5 87.0L228.3 87.0M225.8 86.2L235.5 86.2M185.8 93.3L194.4 93.3M191.8 94.2L200.9 94.2M198.4 93.5L206.9 93.5M204.4 94.6L211.9 94.6M209.4 94.2L216.9 94.2M214.4 93.8L224.1 93.8M221.5 93.1L228.3 93.1M198.4 99.3L206.9 99.3M204.4 99.0L211.9 99.0M209.4 100.7L216.9 100.7M214.4 99.4L224.1 99.4M221.5 99.4L228.3 99.4M225.8 99.1L235.5 99.1M185.8 107.2L194.4 107.2M191.8 108.8L200.9 108.8M198.4 107.2L206.9 107.2M204.4 107.3L211.9 107.3M209.4 106.6L216.9 106.6M214.4 107.7L224.1 107.7M221.5 107.1L228.3 107.1M225.8 106.6L235.5 106.6M185.8 114.7L194.4 114.7M191.8 114.5L200.9 114.5M204.4 115.0L211.9 115.0M209.4 115.7L216.9 115.7M214.4 116.0L224.1 116.0M221.5 116.5L228.3 116.5M225.8 115.2L235.5 115.2M185.8 121.9L194.4 121.9M191.8 123.1L200.9 123.1M204.4 123.6L211.9 123.6M209.4 123.3L216.9 123.3M214.4 121.9L224.1 121.9M221.5 122.7L228.3 122.7M225.8 123.4L235.5 123.4M185.8 130.0L194.4 130.0M191.8 130.3L200.9 130.3M198.4 129.2L206.9 129.2M214.4 129.0L224.1 129.0M221.5 130.0L228.3 130.0M225.8 130.1L235.5 130.1M213.5 123.6L213.5 132.8M214.1 140.7L214.1 149.2M213.6 149.2L213.6 155.7M212.4 155.7L212.4 162.1M212.9 162.1L212.9 172.1M214.1 177.8L214.1 183.2M221.2 123.6L221.2 132.8M220.6 132.8L220.6 140.7M220.6 140.7L220.6 149.2M221.3 149.2L221.3 155.7M221.0 155.7L221.0 162.1M221.3 177.8L221.3 183.2M225.2 123.6L225.2 132.8M225.5 149.2L225.5 155.7M225.5 155.7L225.5 162.1M225.1 162.1L225.1 172.1M225.0 172.1L225.0 177.8M232.0 123.6L232.0 132.8M233.9 132.8L233.9 140.7M233.6 149.2L233.6 155.7M232.6 155.7L232.6 162.1M232.0 162.1L232.0 172.1M232.0 172.1L232.0 177.8M231.8 177.8L231.8 183.2M238.9 123.6L238.9 132.8M237.8 140.7L237.8 149.2M238.3 149.2L238.3 155.7M238.8 155.7L238.8 162.1M236.5 162.1L236.5 172.1M237.6 177.8L237.6 183.2M212.2 122.7L221.9 122.7M219.3 123.1L226.3 123.1M223.8 122.4L234.0 122.4M231.5 124.3L239.0 124.3M219.3 133.3L226.3 133.3M223.8 132.4L234.0 132.4M231.5 132.6L239.0 132.6M212.2 140.9L221.9 140.9M219.3 140.5L226.3 140.5M223.8 139.6L234.0 139.6M212.2 148.7L221.9 148.7M219.3 148.7L226.3 148.7M223.8 149.3L234.0 149.3M231.5 148.9L239.0 148.9M212.2 156.5L221.9 156.5M219.3 156.0L226.3 156.0M223.8 156.7L234.0 156.7M231.5 156.2L239.0 156.2M219.3 162.0L226.3 162.0M223.8 162.4L234.0 162.4M231.5 161.0L239.0 161.0M212.2 171.2L221.9 171.2M219.3 171.7L226.3 171.7M223.8 172.6L234.0 172.6M231.5 171.5L239.0 171.5M212.2 177.3L221.9 177.3M219.3 177.5L226.3 177.5M223.8 177.0L234.0 177.0M231.5 178.7L239.0 178.7M212.2 182.5L221.9 182.5M219.3 184.3L226.3 184.3M223.8 182.4L234.0 182.4M231.5 182.3L239.0 182.3" fill="none" stroke="#fff" stroke-width="0.45" stroke-opacity="0.6" stroke-linejoin="round" stroke-linecap="round"/>
<path d="M234.2 69.2L234.2 77.1L242.0 81.1L245.6 79.9M227.0 81.6L227.0 99.9M224.9 100.6L224.9 129.9M227.0 81.6L241.6 80.8M195.7 92.8L208.5 104.2L215.6 92.8M224.9 100.6L241.3 100.6M187.1 57.8L196.4 54.3M188.5 65.7L195.7 58.5M173.6 67.8L187.1 67.8M170.7 78.5L187.1 78.5M182.8 67.8L182.8 89.9M178.5 89.2L178.5 99.2L186.4 99.2L186.4 113.5M219.9 116.3L219.9 129.9M224.9 116.3L237.3 116.3M186.4 97.0L195.7 104.2L205.6 121.3M222.8 154.4L239.3 152.4M232.0 162.1L242.7 159.5M231.3 183.2L234.2 192.7L234.2 197.5M234.9 194.9L244.2 195.2L249.2 189.2M217.1 172.1L222.2 183.5M224.9 172.8L227.3 182.0M229.2 172.1L232.0 182.0M232.8 172.1L237.0 182.0M212.8 135.7L212.8 149.2L213.6 162.1L212.2 165.8L217.1 174.9L222.2 183.5M202.8 165.9L212.2 165.9M175.0 145.7L175.7 162.1M180.0 147.8L180.7 162.1M185.7 145.7L185.7 163.5M175.7 162.1L199.9 163.5M175.0 167.8L185.7 167.1M176.4 176.3L195.7 177.8M190.7 163.5L192.1 179.9M195.7 177.8L195.7 192.7M182.8 177.8L183.5 192.0M187.1 186.3L195.7 187.0M177.1 194.9L187.1 193.2M197.8 163.5L202.8 175.6L205.4 182.0L205.4 192.0M188.1 167.1L188.1 180.6" fill="none" stroke="#fff" stroke-width="0.5" stroke-opacity="0.6" stroke-linejoin="round" stroke-linecap="round"/>
<path d="M194.0 152.4L197.4 157.8L199.7 163.5L201.7 169.2L203.5 174.9L207.1 179.2" fill="none" stroke="#fff" stroke-width="1.3" stroke-opacity="0.6" stroke-linejoin="round" stroke-linecap="round"/>
<path d="M200.2 157.8L201.4 163.5L202.8 167.1L204.2 172.1L207.1 176.6L212.8 181.8L217.1 183.8" fill="none" stroke="#fff" stroke-width="0.9" stroke-opacity="0.6" stroke-linejoin="round" stroke-linecap="round"/>
</g></g>
<g><defs><clipPath id="se1">
<polygon points="548.4,37.1 596.2,37.1 596.9,46.6 599.8,53.8 603.3,60.9 606.9,64.5 614.0,68.0 615.5,75.9 616.2,83.7 612.6,88.7 606.9,94.4 602.6,99.4 601.9,105.8 599.0,114.4 598.3,128.7 566.9,128.7 564.1,127.2 561.2,124.4 557.0,120.1 549.8,114.4 547.7,112.3 544.1,113.0 542.7,110.1 539.8,110.8 532.7,105.8 528.4,100.1 527.0,93.7 522.0,88.7 526.3,85.1 531.3,80.9 532.0,77.3 534.9,71.6 534.9,66.6 535.6,63.0 541.3,57.3 544.8,53.1 546.3,50.9 548.1,44.5"/>
<polygon points="558.7,122.4 598.3,113.8 598.3,130.9 599.0,145.2 601.2,151.6 604.0,156.6 608.3,162.3 608.6,166.6 606.9,170.9 605.5,176.6 606.9,182.3 610.5,188.0 616.2,196.5 607.6,196.5 606.2,199.4 609.0,200.1 609.0,204.4 605.5,204.4 604.8,200.8 601.2,200.8 601.2,206.5 596.2,206.5 596.2,195.8 593.3,195.8 593.3,197.3 586.9,197.3 586.2,183.7 584.1,182.3 584.1,185.8 582.6,185.8 581.2,180.8 578.4,182.0 574.1,180.1 568.4,175.1 565.5,170.9 564.1,165.9 562.7,162.3 561.2,156.6 562.0,150.9 562.7,142.3 563.4,136.6 564.1,132.3 562.7,127.4"/>
<polygon points="542.7,136.6 544.8,140.9 547.7,144.5 552.7,144.5 554.8,150.9 558.7,156.6 561.0,162.3 563.0,168.0 564.8,173.7 568.4,178.0 574.1,183.7 576.9,186.6 573.4,188.0 571.9,189.4 568.4,188.7 566.9,193.0 564.8,190.8 556.3,191.5 548.4,191.5 549.1,199.4 547.7,205.1 541.3,199.4 538.4,193.7 537.7,190.8 535.6,182.3 537.7,175.1 536.3,166.6 534.9,160.9 531.3,155.2 526.7,149.2 536.3,144.5 539.8,139.5"/>
<polygon points="555.5,141.6 559.8,140.9 560.5,155.2 558.1,153.7 555.5,148.0"/>
</clipPath></defs><g clip-path="url(#se1)">
<polygon points="548.4,37.1 596.2,37.1 596.9,46.6 599.8,53.8 603.3,60.9 606.9,64.5 614.0,68.0 615.5,75.9 616.2,83.7 612.6,88.7 606.9,94.4 602.6,99.4 601.9,105.8 599.0,114.4 598.3,128.7 566.9,128.7 564.1,127.2 561.2,124.4 557.0,120.1 549.8,114.4 547.7,112.3 544.1,113.0 542.7,110.1 539.8,110.8 532.7,105.8 528.4,100.1 527.0,93.7 522.0,88.7 526.3,85.1 531.3,80.9 532.0,77.3 534.9,71.6 534.9,66.6 535.6,63.0 541.3,57.3 544.8,53.1 546.3,50.9 548.1,44.5" fill="#b3d9a8"/>
<polygon points="541.3,57.3 544.8,53.1 562.7,53.1 562.7,67.3 534.9,67.3 535.6,63.0" fill="#8eceb0"/>
<polygon points="554.4,37.1 560.7,37.1 560.7,43.1 554.4,43.1" fill="#6ec4b3"/>
<polygon points="561.0,37.1 571.2,37.1 571.2,43.1 564.1,43.1 564.1,40.2 561.0,40.2" fill="#7bc8b2"/>
<polygon points="571.9,37.1 584.1,37.1 584.1,46.6 571.9,46.6" fill="#bddca6"/>
<polygon points="584.4,37.1 596.3,37.1 596.3,46.6 584.4,46.6" fill="#afd8a9"/>
<polygon points="576.9,47.3 585.5,47.3 585.5,51.6 576.9,51.6" fill="#afd8a9"/>
<polygon points="566.9,52.3 576.4,52.3 576.4,59.6 566.9,59.6" fill="#a1d3ac"/>
<polygon points="581.9,52.3 586.3,52.3 586.3,59.6 581.9,59.6" fill="#afd8a9"/>
<polygon points="548.4,56.6 557.7,53.1 558.7,62.3 552.0,66.6 548.4,66.6" fill="#7bc8b2"/>
<polygon points="559.8,56.6 565.8,56.6 565.8,62.5 559.8,62.5" fill="#93cfaf"/>
<polygon points="555.0,43.1 564.1,43.1 564.1,53.1 555.0,53.1" fill="#67c2b4"/>
<polygon points="564.1,43.1 576.2,43.1 576.2,52.3 564.1,52.3" fill="#93cfaf"/>
<polygon points="534.9,66.6 544.1,66.6 544.1,76.6 534.9,76.6 534.9,71.6" fill="#8eceb0"/>
<polygon points="532.0,77.3 542.7,77.3 542.7,88.7 537.0,88.0 532.7,83.7 531.3,80.9" fill="#74c6b3"/>
<polygon points="539.8,88.0 547.7,88.0 547.7,98.0 539.8,98.0" fill="#8eceb0"/>
<polygon points="595.5,68.0 614.0,68.0 615.5,75.9 616.2,83.7 612.6,88.7 606.9,78.7 603.3,79.9 595.5,75.9" fill="#a1d3ac"/>
<polygon points="588.3,80.4 602.9,79.6 606.9,78.7 612.6,88.7 606.9,94.4 602.6,99.4 588.3,98.7" fill="#d1e4a7"/>
<polygon points="586.2,99.4 602.6,99.4 601.9,105.8 599.0,114.4 586.2,114.4" fill="#93cfaf"/>
<polygon points="574.1,88.7 588.3,88.7 588.3,98.7 574.1,98.7" fill="#d4e5a8"/>
<polygon points="557.0,85.9 574.1,85.9 574.1,98.7 576.9,99.4 576.9,114.4 557.0,114.4 549.8,108.7 547.7,95.8 557.0,91.6" fill="#c6dfa4"/>
<polygon points="586.2,115.1 598.6,115.1 598.6,128.7 586.2,128.7" fill="#cce1a5"/>
<polygon points="581.2,115.1 585.8,115.1 585.8,128.7 581.2,128.7" fill="#b8dba7"/>
<polygon points="576.2,125.8 580.8,125.8 580.8,128.7 576.2,128.7" fill="#afd8a9"/>
<polygon points="522.0,88.7 526.3,85.1 531.3,80.9 532.7,83.7 537.0,88.0 539.8,88.0 539.8,98.0 547.7,98.0 547.7,112.3 544.1,113.0 542.7,110.1 539.8,110.8 532.7,105.8 528.4,100.1 527.0,93.7" fill="#c9e0a5"/>
<polygon points="578.4,54.5 582.6,54.5 582.6,64.5 578.4,64.5" fill="#dae7a9"/>
<polygon points="558.7,122.4 598.3,113.8 598.3,130.9 599.0,145.2 601.2,151.6 604.0,156.6 608.3,162.3 608.6,166.6 606.9,170.9 605.5,176.6 606.9,182.3 610.5,188.0 616.2,196.5 607.6,196.5 606.2,199.4 609.0,200.1 609.0,204.4 605.5,204.4 604.8,200.8 601.2,200.8 601.2,206.5 596.2,206.5 596.2,195.8 593.3,195.8 593.3,197.3 586.9,197.3 586.2,183.7 584.1,182.3 584.1,185.8 582.6,185.8 581.2,180.8 578.4,182.0 574.1,180.1 568.4,175.1 565.5,170.9 564.1,165.9 562.7,162.3 561.2,156.6 562.0,150.9 562.7,142.3 563.4,136.6 564.1,132.3 562.7,127.4" fill="#a6d5ab"/>
<polygon points="586.2,115.2 598.3,115.2 598.3,130.9 586.2,130.9" fill="#cce1a5"/>
<polygon points="563.4,133.1 574.1,134.5 574.1,148.0 574.9,160.9 573.5,164.6 564.1,164.6 561.5,156.6 562.7,142.3" fill="#6ec4b3"/>
<polygon points="564.1,164.9 573.5,164.9 578.4,173.7 583.5,182.3 584.1,185.8 582.6,185.8 581.2,180.8 578.4,182.0 574.1,180.1 568.4,175.1 565.5,170.9" fill="#6ec4b3"/>
<polygon points="574.8,135.2 581.2,135.2 581.2,147.5 574.8,147.5" fill="#afd8a9"/>
<polygon points="574.9,148.0 582.6,148.0 584.1,160.9 575.2,160.9" fill="#a1d3ac"/>
<polygon points="581.9,131.6 597.2,131.6 597.2,138.9 581.9,138.9" fill="#c6dfa4"/>
<polygon points="581.2,139.5 596.9,139.5 599.0,150.2 584.1,153.2 582.6,148.0" fill="#89ccb0"/>
<polygon points="584.8,153.7 600.6,151.2 604.0,158.0 593.3,160.9 584.8,160.3" fill="#74c6b3"/>
<polygon points="594.1,161.2 604.0,158.3 608.6,163.0 608.3,167.3 606.9,170.3 594.3,170.3" fill="#a6d5ab"/>
<polygon points="586.3,160.9 593.5,160.9 593.5,170.3 586.3,170.3" fill="#54bab7"/>
<polygon points="574.1,160.3 586.3,160.3 586.3,170.3 574.1,170.3" fill="#89ccb0"/>
<polygon points="575.2,146.0 581.2,146.0 581.2,152.3 575.2,152.3" fill="#afd8a9"/>
<polygon points="578.4,170.9 586.2,170.9 588.3,180.8 583.5,182.3" fill="#93cfaf"/>
<polygon points="586.2,171.6 589.8,171.6 592.6,180.8 588.6,180.8" fill="#6ec4b3"/>
<polygon points="590.5,170.9 594.1,170.9 598.3,180.8 593.3,180.8" fill="#7bc8b2"/>
<polygon points="594.8,170.9 606.9,170.9 605.5,176.6 606.6,181.7 598.3,180.8" fill="#7bc8b2"/>
<polygon points="592.6,182.0 606.6,182.0 610.5,188.0 605.5,194.0 599.0,193.7 595.5,190.8" fill="#67c2b4"/>
<polygon points="596.2,193.7 605.5,194.0 610.5,188.3 616.2,196.5 607.6,196.5 606.2,199.4 609.0,200.1 609.0,204.4 605.5,204.4 604.8,200.8 601.2,200.8 601.2,206.5 596.2,206.5" fill="#7bc8b2"/>
<polygon points="586.2,182.3 592.6,182.0 595.5,191.5 595.5,196.3 593.3,197.3 586.9,197.3" fill="#7bc8b2"/>
<polygon points="559.1,122.7 561.6,123.4 564.1,125.2 567.0,129.5 564.8,130.5 562.7,127.3 560.6,124.8" fill="#60c0b5"/>
<polygon points="568.4,127.3 572.0,126.6 572.3,130.5 569.1,130.2" fill="#48b4ba"/>
<polygon points="565.2,131.6 570.9,131.6 570.9,133.0 565.2,133.0" fill="#3caebc"/>
<polygon points="581.3,123.8 585.2,123.8 585.2,130.9 581.3,130.9" fill="#afd8a9"/>
<polygon points="581.3,114.9 585.2,114.9 585.2,123.1 581.3,123.1" fill="#b8dba7"/>
<polygon points="564.1,114.5 569.1,114.5 569.1,122.3 564.1,122.3" fill="#afd8a9"/>
<polygon points="576.2,125.2 580.6,125.2 580.6,130.9 576.2,130.9" fill="#afd8a9"/>
<polygon points="581.2,123.8 585.8,123.8 585.8,130.9 581.2,130.9" fill="#b8dba7"/>
<polygon points="542.7,136.6 544.8,140.9 547.7,144.5 552.7,144.5 554.8,150.9 558.7,156.6 561.0,162.3 563.0,168.0 564.8,173.7 568.4,178.0 574.1,183.7 576.9,186.6 573.4,188.0 571.9,189.4 568.4,188.7 566.9,193.0 564.8,190.8 556.3,191.5 548.4,191.5 549.1,199.4 547.7,205.1 541.3,199.4 538.4,193.7 537.7,190.8 535.6,182.3 537.7,175.1 536.3,166.6 534.9,160.9 531.3,155.2 526.7,149.2 536.3,144.5 539.8,139.5" fill="#aad6aa"/>
<polygon points="555.5,141.6 559.8,140.9 560.5,155.2 558.1,153.7 555.5,148.0" fill="#7bc8b2"/>
<polygon points="547.7,144.5 552.7,144.5 554.8,150.9 558.7,156.6 561.0,162.3 552.0,162.3 547.0,162.3" fill="#6ec4b3"/>
<polygon points="547.0,165.9 549.3,165.9 549.3,175.1 547.0,175.1" fill="#38a8bb"/>
<polygon points="549.5,165.9 553.0,165.9 553.0,179.4 549.5,179.4" fill="#3caebc"/>
<polygon points="564.1,174.4 568.4,178.0 576.9,186.6 571.9,189.4 566.9,188.0 566.7,180.8" fill="#3caebc"/>
<polygon points="547.7,185.8 556.3,185.8 556.3,191.5 547.7,191.5" fill="#60c0b5"/>
<polygon points="551.3,179.4 556.3,179.4 556.3,185.8 551.3,185.8" fill="#4eb7b8"/>
<polygon points="552.0,162.3 559.1,162.3 564.1,174.4 557.0,178.7 553.4,178.7" fill="#67c2b4"/>
<polygon points="557.0,176.6 564.1,175.1 566.7,180.8 566.7,190.8 557.0,190.8" fill="#9cd2ad"/>
<polygon points="536.3,175.1 548.4,175.1 548.4,190.8 539.1,191.5 535.6,182.3" fill="#bddca6"/>
<polygon points="526.7,149.2 536.3,144.5 537.0,160.9 534.9,160.9 531.3,155.2" fill="#aad6aa"/>
<polygon points="538.4,193.7 548.4,192.0 549.1,199.4 547.7,205.1 541.3,199.4" fill="#b8dba7"/>
<polygon points="565.5,190.1 568.4,189.4 569.1,193.0 566.9,193.7" fill="#3caebc"/>
<path d="M547.5 37.1L547.5 43.1M547.3 43.1L547.3 47.6M548.1 47.6L548.1 52.3M547.2 59.5L547.2 66.6M547.3 66.6L547.3 71.6M549.2 76.6L549.2 81.6M548.7 85.9L548.7 92.3M548.6 92.3L548.6 98.7M549.6 98.7L549.6 106.5M547.9 114.4L547.9 121.5M555.2 43.1L555.2 47.6M554.6 47.6L554.6 52.3M554.1 52.3L554.1 59.5M553.3 59.5L553.3 66.6M554.9 71.6L554.9 76.6M553.9 76.6L553.9 81.6M554.3 81.6L554.3 85.9M555.2 85.9L555.2 92.3M553.7 92.3L553.7 98.7M554.5 98.7L554.5 106.5M555.0 106.5L555.0 114.4M555.6 114.4L555.6 121.5M561.6 37.1L561.6 43.1M559.8 47.6L559.8 52.3M561.6 52.3L561.6 59.5M561.9 59.5L561.9 66.6M561.5 66.6L561.5 71.6M561.2 71.6L561.2 76.6M561.8 76.6L561.8 81.6M560.9 81.6L560.9 85.9M559.8 85.9L559.8 92.3M561.3 92.3L561.3 98.7M561.8 98.7L561.8 106.5M560.7 106.5L560.7 114.4M559.7 114.4L559.7 121.5M560.1 121.5L560.1 128.7M566.0 47.6L566.0 52.3M566.7 52.3L566.7 59.5M565.9 59.5L565.9 66.6M567.1 66.6L567.1 71.6M567.8 71.6L567.8 76.6M566.4 76.6L566.4 81.6M566.6 81.6L566.6 85.9M568.1 85.9L568.1 92.3M566.3 106.5L566.3 114.4M567.2 114.4L567.2 121.5M565.7 121.5L565.7 128.7M571.6 37.1L571.6 43.1M573.1 43.1L573.1 47.6M572.0 47.6L572.0 52.3M572.4 52.3L572.4 59.5M572.7 66.6L572.7 71.6M572.7 71.6L572.7 76.6M571.7 76.6L571.7 81.6M570.8 85.9L570.8 92.3M571.1 98.7L571.1 106.5M570.8 106.5L570.8 114.4M575.7 43.1L575.7 47.6M577.2 47.6L577.2 52.3M576.5 59.5L576.5 66.6M576.0 66.6L576.0 71.6M578.2 71.6L578.2 76.6M576.9 76.6L576.9 81.6M576.3 92.3L576.3 98.7M576.1 98.7L576.1 106.5M577.0 114.4L577.0 121.5M582.9 37.1L582.9 43.1M585.3 43.1L585.3 47.6M584.6 47.6L584.6 52.3M583.7 52.3L583.7 59.5M584.2 66.6L584.2 71.6M583.6 71.6L583.6 76.6M584.9 76.6L584.9 81.6M585.0 81.6L585.0 85.9M584.9 85.9L584.9 92.3M583.4 92.3L583.4 98.7M583.7 98.7L583.7 106.5M583.4 121.5L583.4 128.7M589.5 37.1L589.5 43.1M589.5 43.1L589.5 47.6M589.5 47.6L589.5 52.3M587.6 52.3L587.6 59.5M587.6 59.5L587.6 66.6M588.7 66.6L588.7 71.6M589.2 71.6L589.2 76.6M588.7 76.6L588.7 81.6M587.3 81.6L587.3 85.9M589.4 85.9L589.4 92.3M589.0 92.3L589.0 98.7M587.5 98.7L587.5 106.5M587.9 106.5L587.9 114.4M589.6 114.4L589.6 121.5M588.1 121.5L588.1 128.7M596.1 37.1L596.1 43.1M596.3 59.5L596.3 66.6M596.7 71.6L596.7 76.6M595.1 76.6L595.1 81.6M594.5 81.6L594.5 85.9M595.9 92.3L595.9 98.7M596.6 98.7L596.6 106.5M596.4 106.5L596.4 114.4M594.7 114.4L594.7 121.5M594.9 121.5L594.9 128.7M547.1 37.3L555.7 37.3M553.1 36.9L562.2 36.9M565.7 36.7L573.2 36.7M570.7 37.3L578.2 37.3M575.7 36.9L585.4 36.9M582.8 37.1L589.6 37.1M587.1 37.1L596.8 37.1M553.1 42.3L562.2 42.3M565.7 42.3L573.2 42.3M570.7 43.6L578.2 43.6M575.7 42.7L585.4 42.7M582.8 43.2L589.6 43.2M587.1 42.2L596.8 42.2M547.1 47.1L555.7 47.1M553.1 48.3L562.2 48.3M559.7 47.8L568.2 47.8M565.7 48.6L573.2 48.6M570.7 47.9L578.2 47.9M575.7 47.7L585.4 47.7M582.8 47.5L589.6 47.5M587.1 47.6L596.8 47.6M547.1 52.8L555.7 52.8M553.1 53.3L562.2 53.3M559.7 52.5L568.2 52.5M565.7 53.1L573.2 53.1M582.8 51.4L589.6 51.4M587.1 51.4L596.8 51.4M547.1 60.1L555.7 60.1M553.1 58.7L562.2 58.7M559.7 59.8L568.2 59.8M570.7 60.5L578.2 60.5M575.7 60.5L585.4 60.5M582.8 59.4L589.6 59.4M587.1 60.2L596.8 60.2M547.1 66.4L555.7 66.4M553.1 66.2L562.2 66.2M559.7 66.2L568.2 66.2M565.7 65.5L573.2 65.5M570.7 66.5L578.2 66.5M582.8 66.9L589.6 66.9M587.1 65.6L596.8 65.6M547.1 72.3L555.7 72.3M553.1 70.7L562.2 70.7M559.7 70.5L568.2 70.5M565.7 71.1L573.2 71.1M575.7 72.5L585.4 72.5M582.8 71.0L589.6 71.0M547.1 76.8L555.7 76.8M553.1 75.7L562.2 75.7M565.7 76.4L573.2 76.4M575.7 76.9L585.4 76.9M582.8 75.6L589.6 75.6M587.1 75.6L596.8 75.6M547.1 81.5L555.7 81.5M553.1 81.7L562.2 81.7M559.7 81.1L568.2 81.1M570.7 81.0L578.2 81.0M582.8 80.6L589.6 80.6M587.1 81.2L596.8 81.2M547.1 86.5L555.7 86.5M553.1 85.9L562.2 85.9M559.7 85.5L568.2 85.5M570.7 84.8L578.2 84.8M575.7 86.0L585.4 86.0M582.8 85.8L589.6 85.8M587.1 85.0L596.8 85.0M547.1 92.1L555.7 92.1M553.1 93.0L562.2 93.0M559.7 92.3L568.2 92.3M565.7 93.4L573.2 93.4M570.7 93.0L578.2 93.0M575.7 92.6L585.4 92.6M582.8 91.9L589.6 91.9M559.7 98.1L568.2 98.1M565.7 97.8L573.2 97.8M570.7 99.5L578.2 99.5M575.7 98.2L585.4 98.2M582.8 98.2L589.6 98.2M587.1 97.9L596.8 97.9M547.1 106.0L555.7 106.0M553.1 107.6L562.2 107.6M559.7 106.0L568.2 106.0M565.7 106.1L573.2 106.1M570.7 105.4L578.2 105.4M575.7 106.5L585.4 106.5M582.8 105.9L589.6 105.9M587.1 105.4L596.8 105.4M547.1 113.5L555.7 113.5M553.1 113.3L562.2 113.3M565.7 113.8L573.2 113.8M570.7 114.5L578.2 114.5M575.7 114.8L585.4 114.8M582.8 115.3L589.6 115.3M587.1 114.0L596.8 114.0M547.1 120.7L555.7 120.7M553.1 121.9L562.2 121.9M565.7 122.4L573.2 122.4M570.7 122.1L578.2 122.1M575.7 120.7L585.4 120.7M582.8 121.5L589.6 121.5M587.1 122.2L596.8 122.2M547.1 128.8L555.7 128.8M553.1 129.1L562.2 129.1M559.7 128.0L568.2 128.0M575.7 127.8L585.4 127.8M582.8 128.8L589.6 128.8M587.1 128.9L596.8 128.9M574.8 122.4L574.8 131.6M575.4 139.5L575.4 148.0M574.9 148.0L574.9 154.5M573.7 154.5L573.7 160.9M574.2 160.9L574.2 170.9M575.4 176.6L575.4 182.0M582.5 122.4L582.5 131.6M581.9 131.6L581.9 139.5M581.9 139.5L581.9 148.0M582.6 148.0L582.6 154.5M582.3 154.5L582.3 160.9M582.6 176.6L582.6 182.0M586.5 122.4L586.5 131.6M586.8 148.0L586.8 154.5M586.8 154.5L586.8 160.9M586.4 160.9L586.4 170.9M586.3 170.9L586.3 176.6M593.3 122.4L593.3 131.6M595.2 131.6L595.2 139.5M594.9 148.0L594.9 154.5M593.9 154.5L593.9 160.9M593.3 160.9L593.3 170.9M593.3 170.9L593.3 176.6M593.1 176.6L593.1 182.0M600.2 122.4L600.2 131.6M599.1 139.5L599.1 148.0M599.6 148.0L599.6 154.5M600.1 154.5L600.1 160.9M597.8 160.9L597.8 170.9M598.9 176.6L598.9 182.0M573.5 121.5L583.2 121.5M580.6 121.9L587.6 121.9M585.1 121.2L595.3 121.2M592.8 123.1L600.3 123.1M580.6 132.1L587.6 132.1M585.1 131.2L595.3 131.2M592.8 131.4L600.3 131.4M573.5 139.7L583.2 139.7M580.6 139.3L587.6 139.3M585.1 138.4L595.3 138.4M573.5 147.5L583.2 147.5M580.6 147.5L587.6 147.5M585.1 148.1L595.3 148.1M592.8 147.7L600.3 147.7M573.5 155.3L583.2 155.3M580.6 154.8L587.6 154.8M585.1 155.5L595.3 155.5M592.8 155.0L600.3 155.0M580.6 160.8L587.6 160.8M585.1 161.2L595.3 161.2M592.8 159.8L600.3 159.8M573.5 170.0L583.2 170.0M580.6 170.5L587.6 170.5M585.1 171.4L595.3 171.4M592.8 170.3L600.3 170.3M573.5 176.1L583.2 176.1M580.6 176.3L587.6 176.3M585.1 175.8L595.3 175.8M592.8 177.5L600.3 177.5M573.5 181.3L583.2 181.3M580.6 183.1L587.6 183.1M585.1 181.2L595.3 181.2M592.8 181.1L600.3 181.1" fill="none" stroke="#fff" stroke-width="0.45" stroke-opacity="0.6" stroke-linejoin="round" stroke-linecap="round"/>
<path d="M595.5 68.0L595.5 75.9L603.3 79.9L606.9 78.7M588.3 80.4L588.3 98.7M586.2 99.4L586.2 128.7M588.3 80.4L602.9 79.6M557.0 91.6L569.8 103.0L576.9 91.6M586.2 99.4L602.6 99.4M548.4 56.6L557.7 53.1M549.8 64.5L557.0 57.3M534.9 66.6L548.4 66.6M532.0 77.3L548.4 77.3M544.1 66.6L544.1 88.7M539.8 88.0L539.8 98.0L547.7 98.0L547.7 112.3M581.2 115.1L581.2 128.7M586.2 115.1L598.6 115.1M547.7 95.8L557.0 103.0L566.9 120.1M584.1 153.2L600.6 151.2M593.3 160.9L604.0 158.3M592.6 182.0L595.5 191.5L595.5 196.3M596.2 193.7L605.5 194.0L610.5 188.0M578.4 170.9L583.5 182.3M586.2 171.6L588.6 180.8M590.5 170.9L593.3 180.8M594.1 170.9L598.3 180.8M574.1 134.5L574.1 148.0L574.9 160.9L573.5 164.6L578.4 173.7L583.5 182.3M564.1 164.7L573.5 164.7M536.3 144.5L537.0 160.9M541.3 146.6L542.0 160.9M547.0 144.5L547.0 162.3M537.0 160.9L561.2 162.3M536.3 166.6L547.0 165.9M537.7 175.1L557.0 176.6M552.0 162.3L553.4 178.7M557.0 176.6L557.0 191.5M544.1 176.6L544.8 190.8M548.4 185.1L557.0 185.8M538.4 193.7L548.4 192.0M559.1 162.3L564.1 174.4L566.7 180.8L566.7 190.8M549.4 165.9L549.4 179.4" fill="none" stroke="#fff" stroke-width="0.5" stroke-opacity="0.6" stroke-linejoin="round" stroke-linecap="round"/>
<path d="M555.3 151.2L558.7 156.6L561.0 162.3L563.0 168.0L564.8 173.7L568.4 178.0" fill="none" stroke="#fff" stroke-width="1.3" stroke-opacity="0.6" stroke-linejoin="round" stroke-linecap="round"/>
<path d="M561.5 156.6L562.7 162.3L564.1 165.9L565.5 170.9L568.4 175.4L574.1 180.6L578.4 182.6" fill="none" stroke="#fff" stroke-width="0.9" stroke-opacity="0.6" stroke-linejoin="round" stroke-linecap="round"/>
</g></g>
<g><defs><clipPath id="bv0"><polygon points="284.2,91.1 292.8,91.1 292.8,111.4 298.5,111.4 307.8,101.4 307.8,114.2 322.7,114.2 321.3,122.8 319.2,131.4 314.9,139.9 314.5,151.3 314.2,155.5 313.8,159.8 312.9,171.4 312.5,172.7 308.7,176.1 306.9,178.7 301.8,177.8 300.9,179.5 298.4,178.7 283.4,171.8 282.1,175.2 271.8,174.4 267.1,171.4 268.9,166.7 271.8,160.7 269.3,151.3 264.3,146.3 267.8,142.8 260.7,140.6 258.6,134.2 258.6,126.4 257.1,119.9 263.5,119.2 263.3,103.5 268.5,102.8 269.3,101.4 284.2,101.4"/></clipPath></defs><g clip-path="url(#bv0)">
<polygon points="284.2,91.1 292.8,91.1 292.8,111.4 298.5,111.4 307.8,101.4 307.8,114.2 322.7,114.2 321.3,122.8 319.2,131.4 314.9,139.9 314.5,151.3 314.2,155.5 313.8,159.8 312.9,171.4 312.5,172.7 308.7,176.1 306.9,178.7 301.8,177.8 300.9,179.5 298.4,178.7 283.4,171.8 282.1,175.2 271.8,174.4 267.1,171.4 268.9,166.7 271.8,160.7 269.3,151.3 264.3,146.3 267.8,142.8 260.7,140.6 258.6,134.2 258.6,126.4 257.1,119.9 263.5,119.2 263.3,103.5 268.5,102.8 269.3,101.4 284.2,101.4" fill="#c6dfa4"/>
<polygon points="284.2,91.1 292.8,91.1 292.8,111.4 284.2,111.4" fill="#faf8cb"/>
<polygon points="263.3,103.5 268.5,102.8 272.1,108.5 272.1,118.5 263.5,118.5" fill="#dce9aa"/>
<polygon points="269.3,101.4 284.2,101.4 284.2,111.4 292.8,111.4 292.8,115.7 273.5,121.4 272.8,108.5" fill="#bddca6"/>
<polygon points="298.5,111.4 307.8,101.4 307.8,111.4" fill="#d4e5a8"/>
<polygon points="298.5,112.1 307.8,112.1 307.8,117.1 303.5,115.7 298.5,114.2" fill="#b8dba7"/>
<polygon points="307.8,114.2 322.7,114.2 321.3,122.8 319.9,127.8 309.9,127.1 309.2,119.9" fill="#c1dea5"/>
<polygon points="299.2,115.0 303.2,115.0 303.2,126.4 299.2,126.4" fill="#8eceb0"/>
<polygon points="293.5,115.7 298.9,115.7 298.9,126.4 293.5,126.4" fill="#f8f7c8"/>
<polygon points="287.1,116.4 293.2,115.7 293.2,126.4 287.1,126.4" fill="#dce9aa"/>
<polygon points="264.3,118.5 272.8,118.5 272.8,126.4 264.3,126.4" fill="#f6f6c5"/>
<polygon points="257.1,119.9 263.5,119.2 263.5,126.4 258.6,126.4" fill="#e2ebab"/>
<polygon points="273.5,121.4 286.7,117.1 286.7,127.1 283.5,134.9 275.7,132.8 273.5,127.1" fill="#cce1a5"/>
<polygon points="258.6,127.1 266.4,127.1 270.0,142.8 260.7,140.6 258.6,134.2" fill="#b6daa7"/>
<polygon points="267.1,127.8 273.5,127.8 275.7,133.5 278.5,147.8 275.7,148.5 270.7,142.8" fill="#c1dea5"/>
<polygon points="276.1,133.5 282.4,134.9 282.8,142.8 279.2,147.8" fill="#c6dfa4"/>
<polygon points="287.1,127.1 293.5,127.1 293.5,136.3 289.2,137.1 287.8,142.8 283.5,142.8 283.2,134.9" fill="#bddca6"/>
<polygon points="294.2,127.1 304.9,127.1 307.1,139.9 299.2,141.3 299.2,135.6 294.2,135.6" fill="#afd8a9"/>
<polygon points="304.2,117.1 309.9,120.7 309.9,127.8 319.9,128.5 314.9,139.9 307.8,139.9 305.6,127.8" fill="#c6dfa4"/>
<polygon points="289.2,137.1 298.5,136.3 298.9,147.0 294.9,149.2 285.7,148.5 282.1,148.2 283.5,143.5 287.8,143.5" fill="#cce1a5"/>
<polygon points="299.2,142.1 307.8,140.6 314.9,140.6 314.2,157.0 307.8,157.0 302.1,154.2 298.5,150.6" fill="#b6daa7"/>
<polygon points="264.3,146.3 267.8,142.8 270.7,143.5 275.7,149.2 275.7,157.0 270.0,168.4 267.1,171.3 267.8,157.0 269.3,151.3" fill="#afd8a9"/>
<polygon points="276.4,149.2 279.2,148.5 279.2,174.2 271.4,172.7 270.0,168.4 275.7,157.7" fill="#cce1a5"/>
<polygon points="280.4,149.6 285.1,149.6 287.3,153.4 290.7,154.3 294.5,155.1 296.7,156.4 294.1,159.8 292.4,162.4 291.5,165.0 291.1,168.0 297.1,167.5 298.0,165.4 301.8,161.5 303.1,163.2 300.9,174.4 299.2,178.7 283.4,171.8 282.1,167.5 279.6,159.8" fill="#edf1b5"/>
<polygon points="294.5,155.5 299.2,155.5 301.8,156.8 300.9,159.8 298.4,161.5 295.0,160.7" fill="#bddca6"/>
<polygon points="303.1,163.2 305.2,160.7 307.4,158.5 311.2,156.8 313.8,159.8 312.9,171.4 308.7,176.1 306.9,178.7 301.8,177.8 300.9,179.5 299.2,178.7 300.9,174.4" fill="#d7e6a8"/>
<polygon points="278.7,148.7 280.4,149.6 279.6,159.8 282.1,167.5 282.1,175.2 278.7,174.8" fill="#dfeaaa"/>
<polygon points="276.1,148.7 278.7,148.7 278.7,174.8 271.8,174.4 271.4,169.2 274.4,160.7" fill="#d1e4a7"/>
<polygon points="280.0,149.1 285.1,149.6 286.4,152.1 283.4,156.4 280.0,158.1" fill="#e8edad"/>
<polygon points="285.1,149.6 294.5,150.0 299.2,151.3 305.2,154.3 311.2,156.8 307.4,158.5 305.2,160.7 302.7,159.8 301.8,156.8 299.2,155.5 296.7,156.4 294.5,155.1 290.7,154.3 287.3,153.4 286.0,151.7" fill="#ffffff"/>
<polygon points="293.2,159.8 294.5,160.7 295.0,163.2 297.1,163.7 298.0,165.4 297.1,167.5 291.1,168.0 291.5,165.0 292.4,162.4" fill="#ffffff"/>
<path d="M272.1 108.5L272.1 127.8M263.5 118.5L272.8 118.5M258.6 126.6L304.9 126.6M273.5 121.4L292.8 115.7L298.5 114.2L303.5 115.7L309.9 120.7L309.9 127.8L319.9 128.5M293.2 115.7L293.2 126.6M299.1 114.2L299.1 126.6M303.3 115.7L303.3 126.6M286.8 117.1L286.8 127.1L283.2 134.9M266.4 127.1L270.0 142.8L275.7 149.2M273.5 127.8L275.7 133.5L279.2 148.2M282.4 134.9L282.8 142.8L279.2 148.2M275.7 133.1L283.2 134.9M293.8 127.1L293.8 136.3L289.2 137.1L287.8 143.2L283.5 143.2M293.8 136.1L298.9 136.1L299.2 147.0M304.9 127.1L307.3 140.2L314.9 140.5M298.9 141.6L307.3 140.2M275.7 149.2L275.7 157.7L270.0 168.4M279.5 148.5L279.5 171.3M275.7 148.8L285.7 149.0M307.8 101.4L307.8 114.2M298.5 111.7L307.8 111.7M279.6 159.8L282.1 167.5L282.1 175.2M303.1 163.2L300.9 174.4L299.2 178.7M291.1 168.0L289.8 169.2L284.7 170.9M272.8 108.5L269.3 101.4M284.2 101.4L284.2 111.4L292.8 111.4" fill="none" stroke="#fff" stroke-width="0.5" stroke-opacity="0.75" stroke-linejoin="round" stroke-linecap="round"/>
</g>
<polygon points="282.5,168.0 283.4,167.5 284.9,172.2 283.8,172.7" fill="#3a4568"/>
<polygon points="289.0,173.9 292.4,174.8 292.2,175.7 289.0,174.8" fill="#3a4568"/>
<polygon points="294.1,176.1 298.0,177.8 297.7,178.5 293.9,176.9" fill="#3a4568"/>
<polygon points="298.4,108.5 299.8,109.1 299.5,109.8 298.4,109.4" fill="#3a4568"/>
</g>
<g><defs><clipPath id="bv1"><polygon points="645.7,89.9 654.3,89.9 654.3,110.2 660.0,110.2 669.3,100.2 669.3,113.0 684.2,113.0 682.8,121.6 680.7,130.2 676.4,138.7 676.0,150.1 675.7,154.3 675.3,158.6 674.4,170.2 674.0,171.5 670.2,174.9 668.4,177.5 663.3,176.6 662.4,178.3 659.9,177.5 644.9,170.6 643.6,174.0 633.3,173.2 628.6,170.2 630.4,165.5 633.3,159.5 630.8,150.1 625.8,145.1 629.3,141.6 622.2,139.4 620.1,133.0 620.1,125.2 618.6,118.7 625.0,118.0 624.8,102.3 630.0,101.6 630.8,100.2 645.7,100.2"/></clipPath></defs><g clip-path="url(#bv1)">
<polygon points="645.7,89.9 654.3,89.9 654.3,110.2 660.0,110.2 669.3,100.2 669.3,113.0 684.2,113.0 682.8,121.6 680.7,130.2 676.4,138.7 676.0,150.1 675.7,154.3 675.3,158.6 674.4,170.2 674.0,171.5 670.2,174.9 668.4,177.5 663.3,176.6 662.4,178.3 659.9,177.5 644.9,170.6 643.6,174.0 633.3,173.2 628.6,170.2 630.4,165.5 633.3,159.5 630.8,150.1 625.8,145.1 629.3,141.6 622.2,139.4 620.1,133.0 620.1,125.2 618.6,118.7 625.0,118.0 624.8,102.3 630.0,101.6 630.8,100.2 645.7,100.2" fill="#c1dea5"/>
<polygon points="645.7,89.9 654.3,89.9 654.3,110.2 645.7,110.2" fill="#e8edad"/>
<polygon points="624.8,102.3 630.0,101.6 633.6,107.3 633.6,117.3 625.0,117.3" fill="#bddca6"/>
<polygon points="630.8,100.2 645.7,100.2 645.7,110.2 654.3,110.2 654.3,114.5 635.0,120.2 634.3,107.3" fill="#bddca6"/>
<polygon points="660.0,110.2 669.3,100.2 669.3,110.2" fill="#d4e5a8"/>
<polygon points="660.0,110.9 669.3,110.9 669.3,115.9 665.0,114.5 660.0,113.0" fill="#c1dea5"/>
<polygon points="669.3,113.0 684.2,113.0 682.8,121.6 681.4,126.6 671.4,125.9 670.7,118.7" fill="#bddca6"/>
<polygon points="660.7,113.8 664.7,113.8 664.7,125.2 660.7,125.2" fill="#b8dba7"/>
<polygon points="655.0,114.5 660.4,114.5 660.4,125.2 655.0,125.2" fill="#e8edad"/>
<polygon points="648.6,115.2 654.7,114.5 654.7,125.2 648.6,125.2" fill="#c6dfa4"/>
<polygon points="625.8,117.3 634.3,117.3 634.3,125.2 625.8,125.2" fill="#e5ecac"/>
<polygon points="618.6,118.7 625.0,118.0 625.0,125.2 620.1,125.2" fill="#c6dfa4"/>
<polygon points="635.0,120.2 648.2,115.9 648.2,125.9 645.0,133.7 637.2,131.6 635.0,125.9" fill="#cce1a5"/>
<polygon points="620.1,125.9 627.9,125.9 631.5,141.6 622.2,139.4 620.1,133.0" fill="#c6dfa4"/>
<polygon points="628.6,126.6 635.0,126.6 637.2,132.3 640.0,146.6 637.2,147.3 632.2,141.6" fill="#c9e0a5"/>
<polygon points="637.6,132.3 643.9,133.7 644.3,141.6 640.7,146.6" fill="#a1d3ac"/>
<polygon points="648.6,125.9 655.0,125.9 655.0,135.1 650.7,135.9 649.3,141.6 645.0,141.6 644.7,133.7" fill="#8eceb0"/>
<polygon points="655.7,125.9 666.4,125.9 668.6,138.7 660.7,140.1 660.7,134.4 655.7,134.4" fill="#c1dea5"/>
<polygon points="665.7,115.9 671.4,119.5 671.4,126.6 681.4,127.3 676.4,138.7 669.3,138.7 667.1,126.6" fill="#bddca6"/>
<polygon points="650.7,135.9 660.0,135.1 660.4,145.8 656.4,148.0 647.2,147.3 643.6,147.0 645.0,142.3 649.3,142.3" fill="#8eceb0"/>
<polygon points="660.7,140.9 669.3,139.4 676.4,139.4 675.7,155.8 669.3,155.8 663.6,153.0 660.0,149.4" fill="#b8dba7"/>
<polygon points="625.8,145.1 629.3,141.6 632.2,142.3 637.2,148.0 637.2,155.8 631.5,167.2 628.6,170.1 629.3,155.8 630.8,150.1" fill="#c1dea5"/>
<polygon points="637.9,148.0 640.7,147.3 640.7,173.0 632.9,171.5 631.5,167.2 637.2,156.5" fill="#cce1a5"/>
<polygon points="641.9,148.4 646.6,148.4 648.8,152.2 652.2,153.1 656.0,153.9 658.2,155.2 655.6,158.6 653.9,161.2 653.0,163.8 652.6,166.8 658.6,166.3 659.5,164.2 663.3,160.3 664.6,162.0 662.4,173.2 660.7,177.5 644.9,170.6 643.6,166.3 641.1,158.6" fill="#e8edad"/>
<polygon points="656.0,154.3 660.7,154.3 663.3,155.6 662.4,158.6 659.9,160.3 656.5,159.5" fill="#e2ebab"/>
<polygon points="664.6,162.0 666.7,159.5 668.9,157.3 672.7,155.6 675.3,158.6 674.4,170.2 670.2,174.9 668.4,177.5 663.3,176.6 662.4,178.3 660.7,177.5 662.4,173.2" fill="#dfeaaa"/>
<polygon points="640.2,147.5 641.9,148.4 641.1,158.6 643.6,166.3 643.6,174.0 640.2,173.6" fill="#d4e5a8"/>
<polygon points="637.6,147.5 640.2,147.5 640.2,173.6 633.3,173.2 632.9,168.0 635.9,159.5" fill="#c9e0a5"/>
<polygon points="641.5,147.9 646.6,148.4 647.9,150.9 644.9,155.2 641.5,156.9" fill="#a1d3ac"/>
<polygon points="646.6,148.4 656.0,148.8 660.7,150.1 666.7,153.1 672.7,155.6 668.9,157.3 666.7,159.5 664.2,158.6 663.3,155.6 660.7,154.3 658.2,155.2 656.0,153.9 652.2,153.1 648.8,152.2 647.5,150.5" fill="#ffffff"/>
<polygon points="654.7,158.6 656.0,159.5 656.5,162.0 658.6,162.5 659.5,164.2 658.6,166.3 652.6,166.8 653.0,163.8 653.9,161.2" fill="#ffffff"/>
<path d="M633.6 107.3L633.6 126.6M625.0 117.3L634.3 117.3M620.1 125.4L666.4 125.4M635.0 120.2L654.3 114.5L660.0 113.0L665.0 114.5L671.4 119.5L671.4 126.6L681.4 127.3M654.7 114.5L654.7 125.4M660.6 113.0L660.6 125.4M664.8 114.5L664.8 125.4M648.3 115.9L648.3 125.9L644.7 133.7M627.9 125.9L631.5 141.6L637.2 148.0M635.0 126.6L637.2 132.3L640.7 147.0M643.9 133.7L644.3 141.6L640.7 147.0M637.2 131.9L644.7 133.7M655.3 125.9L655.3 135.1L650.7 135.9L649.3 142.0L645.0 142.0M655.3 134.9L660.4 134.9L660.7 145.8M666.4 125.9L668.8 139.0L676.4 139.3M660.4 140.4L668.8 139.0M637.2 148.0L637.2 156.5L631.5 167.2M641.0 147.3L641.0 170.1M637.2 147.6L647.2 147.8M669.3 100.2L669.3 113.0M660.0 110.5L669.3 110.5M641.1 158.6L643.6 166.3L643.6 174.0M664.6 162.0L662.4 173.2L660.7 177.5M652.6 166.8L651.3 168.0L646.2 169.7M634.3 107.3L630.8 100.2M645.7 100.2L645.7 110.2L654.3 110.2" fill="none" stroke="#fff" stroke-width="0.5" stroke-opacity="0.75" stroke-linejoin="round" stroke-linecap="round"/>
</g>
<polygon points="644.0,166.8 644.9,166.3 646.4,171.0 645.3,171.5" fill="#3a4568"/>
<polygon points="650.5,172.7 653.9,173.6 653.7,174.5 650.5,173.6" fill="#3a4568"/>
<polygon points="655.6,174.9 659.5,176.6 659.2,177.3 655.4,175.7" fill="#3a4568"/>
<polygon points="659.9,107.3 661.3,107.9 661.0,108.6 659.9,108.2" fill="#3a4568"/>
</g>
<g>
<defs><clipPath id="clipL">
<polygon points="141.3,299.8 155.9,303.6 179.8,303.2 179.8,414.8 114.8,414.8 113.1,409.7 107.9,406.3 101.1,403.7 96.8,401.1 90.0,400.3 85.7,397.7 82.3,395.1 78.8,390.9 76.3,385.7 71.1,384.0 71.1,377.2 72.0,375.5 71.1,370.3 72.8,367.8 78.0,365.2 75.4,363.5 76.3,360.0 80.2,359.2 80.2,352.9 85.7,352.3 86.5,344.6 85.7,335.2 90.0,331.8 96.8,331.3 104.2,331.8 104.9,318.1 110.5,318.1 111.4,320.7 117.3,319.8 124.2,320.7 124.2,311.3 129.3,311.3 135.3,307.0"/>
<polygon points="170.0,303.2 180.3,303.2 182.0,307.0 185.4,304.4 188.0,308.7 184.6,312.1 186.3,315.5 182.8,319.0 185.4,322.4 190.5,319.8 194.0,322.4 193.1,326.7 200.0,328.4 208.5,329.2 231.6,330.1 235.9,331.8 236.8,335.2 240.2,336.1 241.0,339.9 245.3,339.9 245.0,354.9 238.5,354.1 226.5,354.9 215.4,355.8 215.4,360.6 214.5,364.3 211.9,366.9 206.8,366.0 203.4,370.3 200.8,375.5 203.4,380.6 205.9,390.9 208.5,397.7 211.1,404.6 213.7,408.0 215.4,414.8 170.0,414.8"/>
<polygon points="115.6,409.3 179.8,409.3 179.8,502.6 167.0,505.1 164.4,498.3 161.0,495.7 155.9,488.9 151.6,482.0 157.6,476.9 162.7,473.5 169.6,468.3 162.7,463.2 155.9,454.6 150.7,456.4 147.3,452.9 140.5,459.8 136.2,464.9 128.5,459.8 118.2,456.4 113.9,454.6 113.1,441.8 111.4,439.2 101.9,438.4"/>
<polygon points="170.0,405.0 215.4,405.0 229.1,417.3 243.6,416.6 246.2,427.3 257.3,470.0 257.0,483.7 249.6,484.6 249.6,504.3 259.9,504.3 260.7,514.6 250.5,516.3 238.5,517.1 238.5,524.8 234.2,524.8 234.2,507.7 230.8,506.0 226.5,512.0 223.1,506.0 223.1,497.4 217.1,495.7 214.5,488.9 200.0,489.7 200.0,494.0 199.1,507.7 193.1,507.7 192.3,502.9 170.0,504.3"/>
<polygon points="239.4,397.2 241.3,397.2 246.5,410.7 250.9,415.8 251.6,413.2 258.7,412.6 259.3,408.1 262.5,406.8 262.5,400.4 271.5,401.0 273.4,398.5 276.0,400.4 281.1,399.8 281.8,404.3 279.2,406.8 281.8,410.7 285.0,412.6 287.5,411.3 286.9,415.8 283.0,419.7 282.4,423.5 280.5,427.4 292.7,426.7 290.7,429.3 290.7,438.9 288.8,444.1 277.3,445.3 277.3,471.0 264.4,471.0 263.8,469.7 256.7,469.7 256.7,474.9 240.7,474.9 227.8,436.4 238.1,415.2 242.6,412.6"/>
<polygon points="234.4,506.3 238.2,506.3 238.2,553.4 231.4,553.4 231.4,587.6 239.1,586.8 246.8,585.0 247.6,583.3 248.5,585.0 255.3,585.0 257.0,590.2 253.6,600.5 247.6,605.6 245.0,601.8 239.9,603.5 236.5,609.0 239.1,613.3 239.9,617.6 241.6,622.7 239.9,627.0 237.3,629.6 236.5,635.0 226.2,633.3 219.4,631.6 217.3,627.0 221.1,622.7 222.8,615.9 227.1,613.3 227.1,550.0 234.4,548.2"/>
<polygon points="257.0,591.0 260.5,587.1 265.1,594.5 255.3,602.5 254.0,600.5"/>
<polygon points="242.5,615.9 245.0,609.9 251.9,605.6 255.3,606.4 253.6,610.7 250.2,613.3 249.3,617.6 245.9,621.0"/>
<polygon points="248.5,622.7 257.0,621.0 257.9,624.4 253.6,629.6 249.3,627.8"/>
<polygon points="237.3,605.6 245.9,603.0 241.6,609.0 239.1,609.0"/>
</clipPath>
<pattern id="gL_0" width="3.00" height="3.75" patternUnits="userSpaceOnUse" patternTransform="rotate(0)"><path d="M0 0H3.00 M0 0V3.75" stroke="#fff" stroke-width="0.50" stroke-opacity="0.65" fill="none"/></pattern>
<pattern id="gL_1" width="4.20" height="5.25" patternUnits="userSpaceOnUse" patternTransform="rotate(0)"><path d="M0 0H4.20 M0 0V5.25" stroke="#fff" stroke-width="0.50" stroke-opacity="0.60" fill="none"/></pattern>
<pattern id="gL_2" width="2.60" height="3.25" patternUnits="userSpaceOnUse" patternTransform="rotate(45)"><path d="M0 0H2.60 M0 0V3.25" stroke="#fff" stroke-width="0.50" stroke-opacity="0.60" fill="none"/></pattern>
<pattern id="gL_3" width="2.00" height="2.50" patternUnits="userSpaceOnUse" patternTransform="rotate(45)"><path d="M0 0H2.00 M0 0V2.50" stroke="#fff" stroke-width="0.50" stroke-opacity="0.60" fill="none"/></pattern>
<pattern id="gL_4" width="2.60" height="3.25" patternUnits="userSpaceOnUse" patternTransform="rotate(0)"><path d="M0 0H2.60 M0 0V3.25" stroke="#fff" stroke-width="0.50" stroke-opacity="0.60" fill="none"/></pattern>
<pattern id="gL_5" width="3.90" height="4.88" patternUnits="userSpaceOnUse" patternTransform="rotate(0)"><path d="M0 0H3.90 M0 0V4.88" stroke="#fff" stroke-width="0.70" stroke-opacity="0.80" fill="none"/></pattern>
<pattern id="gL_6" width="2.60" height="3.25" patternUnits="userSpaceOnUse" patternTransform="rotate(0)"><path d="M0 0H2.60 M0 0V3.25" stroke="#fff" stroke-width="0.50" stroke-opacity="0.60" fill="none"/></pattern>
<pattern id="gL_7" width="2.40" height="3.00" patternUnits="userSpaceOnUse" patternTransform="rotate(20)"><path d="M0 0H2.40 M0 0V3.00" stroke="#fff" stroke-width="0.50" stroke-opacity="0.60" fill="none"/></pattern>
<pattern id="gL_8" width="3.20" height="4.00" patternUnits="userSpaceOnUse" patternTransform="rotate(30)"><path d="M0 0H3.20 M0 0V4.00" stroke="#fff" stroke-width="0.50" stroke-opacity="0.55" fill="none"/></pattern>
<pattern id="gL_9" width="3.60" height="4.50" patternUnits="userSpaceOnUse" patternTransform="rotate(10)"><path d="M0 0H3.60 M0 0V4.50" stroke="#fff" stroke-width="0.50" stroke-opacity="0.50" fill="none"/></pattern>
<pattern id="gL_10" width="3.40" height="4.25" patternUnits="userSpaceOnUse" patternTransform="rotate(0)"><path d="M0 0H3.40 M0 0V4.25" stroke="#fff" stroke-width="0.50" stroke-opacity="0.50" fill="none"/></pattern>
<pattern id="gL_11" width="3.00" height="3.75" patternUnits="userSpaceOnUse" patternTransform="rotate(35)"><path d="M0 0H3.00 M0 0V3.75" stroke="#fff" stroke-width="0.50" stroke-opacity="0.55" fill="none"/></pattern>
<pattern id="gL_12" width="3.00" height="3.75" patternUnits="userSpaceOnUse" patternTransform="rotate(35)"><path d="M0 0H3.00 M0 0V3.75" stroke="#fff" stroke-width="0.50" stroke-opacity="0.55" fill="none"/></pattern>
<pattern id="gL_13" width="3.80" height="4.75" patternUnits="userSpaceOnUse" patternTransform="rotate(0)"><path d="M0 0H3.80 M0 0V4.75" stroke="#fff" stroke-width="0.50" stroke-opacity="0.45" fill="none"/></pattern>
<pattern id="gL_14" width="3.00" height="3.75" patternUnits="userSpaceOnUse" patternTransform="rotate(0)"><path d="M0 0H3.00 M0 0V3.75" stroke="#fff" stroke-width="0.50" stroke-opacity="0.60" fill="none"/></pattern>
</defs>
<polygon points="141.3,299.8 155.9,303.6 179.8,303.2 179.8,414.8 114.8,414.8 113.1,409.7 107.9,406.3 101.1,403.7 96.8,401.1 90.0,400.3 85.7,397.7 82.3,395.1 78.8,390.9 76.3,385.7 71.1,384.0 71.1,377.2 72.0,375.5 71.1,370.3 72.8,367.8 78.0,365.2 75.4,363.5 76.3,360.0 80.2,359.2 80.2,352.9 85.7,352.3 86.5,344.6 85.7,335.2 90.0,331.8 96.8,331.3 104.2,331.8 104.9,318.1 110.5,318.1 111.4,320.7 117.3,319.8 124.2,320.7 124.2,311.3 129.3,311.3 135.3,307.0" fill="#bddca6"/>
<polygon points="170.0,303.2 180.3,303.2 182.0,307.0 185.4,304.4 188.0,308.7 184.6,312.1 186.3,315.5 182.8,319.0 185.4,322.4 190.5,319.8 194.0,322.4 193.1,326.7 200.0,328.4 208.5,329.2 231.6,330.1 235.9,331.8 236.8,335.2 240.2,336.1 241.0,339.9 245.3,339.9 245.0,354.9 238.5,354.1 226.5,354.9 215.4,355.8 215.4,360.6 214.5,364.3 211.9,366.9 206.8,366.0 203.4,370.3 200.8,375.5 203.4,380.6 205.9,390.9 208.5,397.7 211.1,404.6 213.7,408.0 215.4,414.8 170.0,414.8" fill="#6ec4b3"/>
<polygon points="115.6,409.3 179.8,409.3 179.8,502.6 167.0,505.1 164.4,498.3 161.0,495.7 155.9,488.9 151.6,482.0 157.6,476.9 162.7,473.5 169.6,468.3 162.7,463.2 155.9,454.6 150.7,456.4 147.3,452.9 140.5,459.8 136.2,464.9 128.5,459.8 118.2,456.4 113.9,454.6 113.1,441.8 111.4,439.2 101.9,438.4" fill="#d4e5a8"/>
<polygon points="170.0,405.0 215.4,405.0 229.1,417.3 243.6,416.6 246.2,427.3 257.3,470.0 257.0,483.7 249.6,484.6 249.6,504.3 259.9,504.3 260.7,514.6 250.5,516.3 238.5,517.1 238.5,524.8 234.2,524.8 234.2,507.7 230.8,506.0 226.5,512.0 223.1,506.0 223.1,497.4 217.1,495.7 214.5,488.9 200.0,489.7 200.0,494.0 199.1,507.7 193.1,507.7 192.3,502.9 170.0,504.3" fill="#c6dfa4"/>
<polygon points="239.4,397.2 241.3,397.2 246.5,410.7 250.9,415.8 251.6,413.2 258.7,412.6 259.3,408.1 262.5,406.8 262.5,400.4 271.5,401.0 273.4,398.5 276.0,400.4 281.1,399.8 281.8,404.3 279.2,406.8 281.8,410.7 285.0,412.6 287.5,411.3 286.9,415.8 283.0,419.7 282.4,423.5 280.5,427.4 292.7,426.7 290.7,429.3 290.7,438.9 288.8,444.1 277.3,445.3 277.3,471.0 264.4,471.0 263.8,469.7 256.7,469.7 256.7,474.9 240.7,474.9 227.8,436.4 238.1,415.2 242.6,412.6" fill="#5abdb6"/>
<polygon points="234.4,506.3 238.2,506.3 238.2,553.4 231.4,553.4 231.4,587.6 239.1,586.8 246.8,585.0 247.6,583.3 248.5,585.0 255.3,585.0 257.0,590.2 253.6,600.5 247.6,605.6 245.0,601.8 239.9,603.5 236.5,609.0 239.1,613.3 239.9,617.6 241.6,622.7 239.9,627.0 237.3,629.6 236.5,635.0 226.2,633.3 219.4,631.6 217.3,627.0 221.1,622.7 222.8,615.9 227.1,613.3 227.1,550.0 234.4,548.2" fill="#60c0b5"/>
<polygon points="257.0,591.0 260.5,587.1 265.1,594.5 255.3,602.5 254.0,600.5" fill="#247bb1"/>
<polygon points="242.5,615.9 245.0,609.9 251.9,605.6 255.3,606.4 253.6,610.7 250.2,613.3 249.3,617.6 245.9,621.0" fill="#6ec4b3"/>
<polygon points="248.5,622.7 257.0,621.0 257.9,624.4 253.6,629.6 249.3,627.8" fill="#6ec4b3"/>
<polygon points="237.3,605.6 245.9,603.0 241.6,609.0 239.1,609.0" fill="#6ec4b3"/>
<g clip-path="url(#clipL)">
<polygon points="104.9,318.1 110.5,318.1 111.4,320.7 117.3,319.8 117.3,331.8 104.2,331.8" fill="#eaefaf"/>
<polygon points="117.3,319.8 124.2,320.7 131.9,320.7 131.9,331.8 117.3,331.8" fill="#d4e5a8"/>
<polygon points="124.2,320.7 124.2,311.3 129.3,311.3 135.3,307.0 141.3,299.8 144.7,308.7 143.0,313.8 150.7,323.2 153.3,329.2 149.0,334.4 131.9,331.8 131.9,320.7" fill="#c6dfa4"/>
<polygon points="85.7,335.2 90.0,331.8 104.2,331.8 131.9,331.8 149.0,334.4 155.9,351.5 97.7,351.5 85.7,352.3 86.5,344.6" fill="#aad6aa"/>
<polygon points="85.7,335.2 90.0,331.8 101.9,331.8 101.9,346.4 86.5,346.4" fill="#a1d3ac"/>
<polygon points="131.9,334.4 145.6,335.2 145.6,341.6 131.9,341.2" fill="#89ccb0"/>
<polygon points="135.3,344.6 142.2,344.6 142.2,353.2 135.3,353.2" fill="#dce9aa"/>
<polygon points="141.3,299.8 155.9,303.6 179.8,303.2 179.8,351.5 155.9,351.5 153.3,329.2 157.9,325.0 146.4,308.4" fill="#6ec4b3"/>
<polygon points="153.3,329.2 157.9,325.0 162.7,329.2 166.1,351.5 155.9,351.5" fill="#93cfaf"/>
<polygon points="155.9,310.4 164.4,310.4 164.4,317.3 155.9,317.3" fill="#3caebc"/>
<polygon points="162.7,329.2 171.3,317.3 179.8,312.1 179.8,351.5 166.1,351.5" fill="#3caebc"/>
<polygon points="97.7,351.5 179.8,351.5 179.8,384.0 169.6,384.0 142.2,380.6 125.0,378.9 102.8,375.5 96.8,370.3" fill="#82cab1"/>
<polygon points="102.8,351.5 111.4,351.5 111.4,358.7 102.8,358.7" fill="#4eb7b8"/>
<polygon points="120.8,355.8 142.2,355.8 142.2,362.1 120.8,362.1" fill="#4eb7b8"/>
<polygon points="111.4,363.5 128.5,363.5 128.5,375.5 111.4,375.5" fill="#8eceb0"/>
<polygon points="143.9,360.9 154.5,360.9 154.5,370.3 149.0,373.7 146.4,368.6" fill="#2381b4"/>
<polygon points="155.9,353.2 167.0,353.2 167.0,363.5 155.9,363.5" fill="#288eb7"/>
<polygon points="154.5,363.5 179.8,363.5 179.8,377.2 154.5,377.2" fill="#54bab7"/>
<polygon points="159.3,377.2 169.6,377.2 169.6,383.2 159.3,383.2" fill="#247bb1"/>
<polygon points="128.5,370.3 135.3,370.3 135.3,379.7 128.5,379.7" fill="#3caebc"/>
<polygon points="97.7,366.9 103.7,366.9 103.7,375.5 97.7,375.5" fill="#38a8bb"/>
<polygon points="169.6,351.5 179.8,351.5 179.8,384.0 169.6,384.0" fill="#5abdb6"/>
<polygon points="71.1,360.0 80.2,359.2 83.1,359.7 96.8,370.3 102.8,375.5 101.1,384.0 78.8,390.9 76.3,385.7 71.1,384.0" fill="#b3d9a8"/>
<polygon points="71.1,363.5 80.5,363.5 81.4,370.3 72.0,371.2" fill="#d1e4a7"/>
<polygon points="142.2,380.6 169.6,384.0 179.8,384.0 179.8,397.7 155.9,390.9 128.5,387.4 125.0,378.9" fill="#9cd2ad"/>
<polygon points="101.1,390.9 128.5,388.3 155.9,391.7 179.8,398.6 179.8,414.8 114.8,414.8 113.1,409.7 107.9,406.3" fill="#d1e4a7"/>
<polygon points="182.0,307.0 185.4,304.4 188.0,308.7 184.6,312.1 186.3,315.5 182.8,319.0 176.8,313.8" fill="#a1d3ac"/>
<polygon points="170.0,320.7 182.8,319.0 185.4,322.4 190.5,319.8 194.0,322.4 193.1,326.7 187.1,335.2 187.1,337.8 190.5,341.2 192.3,351.5 180.3,353.2 170.0,351.5" fill="#42b1bb"/>
<polygon points="173.4,325.8 185.4,329.2 187.1,344.6 176.8,346.4" fill="#309bb9"/>
<polygon points="193.1,326.7 200.0,328.4 208.5,329.2 223.1,330.1 223.1,342.9 212.8,335.2 204.2,333.5 192.3,332.7" fill="#67c2b4"/>
<polygon points="199.1,342.1 200.8,338.7 208.5,336.9 212.8,335.2 223.1,342.9 221.4,354.9 215.4,355.8 215.4,360.6 214.5,364.3 211.9,366.9 206.8,366.0 202.5,353.2" fill="#8eceb0"/>
<polygon points="190.5,341.2 199.1,342.1 202.5,353.2 206.8,366.0 203.4,370.3 192.3,351.5" fill="#5abdb6"/>
<polygon points="223.1,330.1 231.6,330.1 235.9,331.8 236.8,335.2 240.2,336.1 241.0,339.9 245.3,339.9 245.0,354.9 238.5,354.1 226.5,354.9 221.4,354.9 223.1,342.9" fill="#afd8a9"/>
<polygon points="231.6,341.2 239.3,341.2 239.3,346.4 231.6,346.4" fill="#48b4ba"/>
<polygon points="170.0,351.5 192.3,351.5 203.4,370.3 200.8,375.5 203.4,380.6 205.9,390.9 170.0,390.9" fill="#5abdb6"/>
<polygon points="187.1,358.3 202.5,360.0 201.7,377.2 188.8,377.2" fill="#36a4bb"/>
<polygon points="170.0,363.5 185.4,366.9 185.4,384.0 170.0,384.0" fill="#48b4ba"/>
<polygon points="170.0,384.0 204.2,384.0 205.9,390.9 208.5,397.7 170.0,397.7" fill="#9cd2ad"/>
<polygon points="170.0,395.1 208.0,396.3 211.1,404.6 213.7,408.0 215.4,414.8 170.0,414.8" fill="#c6dfa4"/>
<polygon points="140.5,410.1 152.4,410.1 153.3,430.7 149.0,439.2 143.9,437.5 142.2,422.1" fill="#e2ebab"/>
<polygon points="162.7,437.5 171.3,437.5 171.3,445.2 162.7,445.2" fill="#f8f7c8"/>
<polygon points="151.6,482.0 157.6,476.9 162.7,473.5 169.6,468.3 179.8,473.5 179.8,502.6 167.0,505.1 164.4,498.3 161.0,495.7 155.9,488.9" fill="#c1dea5"/>
<polygon points="153.7,478.5 158.4,478.1 160.1,480.7 155.4,483.2" fill="#4eb7b8"/>
<polygon points="176.4,478.6 179.8,477.8 179.8,485.5 177.3,484.6" fill="#329eba"/>
<polygon points="169.6,452.9 179.8,449.5 179.8,473.5 173.0,470.0" fill="#d4e5a8"/>
<polygon points="170.0,405.0 215.4,405.0 221.4,409.3 224.8,413.6 229.1,417.3 229.9,422.1 216.2,422.1 211.1,430.7 187.1,429.0 176.0,430.7 170.0,430.7" fill="#cee3a6"/>
<polygon points="170.0,430.7 176.0,430.7 176.8,437.5 180.3,440.9 184.6,447.8 195.7,446.1 194.0,454.6 187.1,464.9 180.3,473.5 170.0,478.6" fill="#d1e4a7"/>
<polygon points="197.4,439.2 206.8,439.2 212.8,438.4 221.4,440.9 229.9,441.5 227.3,450.4 221.4,450.4 197.4,448.7" fill="#e2ebab"/>
<polygon points="229.9,441.5 241.9,441.8 241.9,450.4 227.3,450.4" fill="#7bc8b2"/>
<polygon points="216.2,422.1 237.6,422.1 238.5,437.5 226.5,439.2 214.5,435.0 211.1,430.7" fill="#38a8bb"/>
<polygon points="237.6,422.1 246.2,427.3 250.5,444.4 241.9,441.8 238.5,437.5" fill="#7bc8b2"/>
<polygon points="238.5,439.2 250.5,444.4 255.6,456.4 241.9,456.4" fill="#5abdb6"/>
<polygon points="182.8,445.7 187.1,449.2 194.2,447.8 197.1,443.5 197.1,450.7 192.8,450.7 191.4,457.8 197.1,463.5 191.4,467.1 185.0,472.1 180.7,477.8 174.3,469.2 178.5,457.8" fill="#cce1a5"/>
<polygon points="192.8,450.7 209.9,450.7 207.1,462.1 197.1,462.1 191.4,457.8" fill="#6ec4b3"/>
<polygon points="194.9,462.4 207.1,462.1 209.9,450.7 224.2,452.1 224.2,463.5 215.6,472.1 207.1,477.8 204.9,471.3 199.9,467.8 197.1,463.5" fill="#288eb7"/>
<polygon points="209.9,450.7 249.9,449.2 249.9,463.5 224.2,463.5 224.2,452.1" fill="#38a8bb"/>
<polygon points="215.6,472.1 224.2,463.5 249.9,463.5 249.9,472.1" fill="#247bb1"/>
<polygon points="214.5,470.9 241.9,470.9 257.3,470.0 257.0,483.7 249.6,484.6 249.6,504.3 259.9,504.3 260.7,514.6 250.5,516.3 238.5,517.1 238.5,524.8 234.2,524.8 234.2,507.7 230.8,506.0 226.5,512.0 223.1,506.0 223.1,497.4 217.1,495.7 214.5,488.9" fill="#2762a6"/>
<polygon points="219.6,473.5 238.5,472.6 248.7,476.9 247.9,500.9 235.0,506.0 221.4,494.0" fill="#27519b"/>
<polygon points="233.3,473.5 247.0,476.9 247.9,514.6 235.0,516.3" fill="#27519b"/>
<polygon points="223.1,497.4 230.8,498.3 230.8,506.0 226.5,512.0 223.1,506.0" fill="#288eb7"/>
<polygon points="233.3,459.8 240.2,459.8 239.3,470.0 232.5,468.3" fill="#dfeaaa"/>
<polygon points="238.5,456.4 255.6,456.4 257.3,470.0 241.9,470.9" fill="#2575af"/>
<polygon points="239.3,470.9 242.8,464.9 245.3,467.5 241.9,473.5" fill="#283a89"/>
<polygon points="170.0,478.6 180.3,473.5 187.1,482.0 190.5,485.5 200.0,489.7 200.0,494.0 199.1,507.7 192.3,502.9 170.0,504.3" fill="#cee3a6"/>
<polygon points="176.4,480.7 181.1,477.7 185.4,480.7 180.2,485.4" fill="#3caebc"/>
<polygon points="204.9,471.3 207.1,477.8 214.9,476.3 214.2,472.1" fill="#48b4ba"/>
<polygon points="223.4,477.3 233.2,477.3 233.2,483.2 223.4,483.2" fill="#2381b4"/>
<polygon points="223.0,485.0 229.8,485.0 229.8,489.2 223.0,489.2" fill="#2488b6"/>
<polygon points="223.4,492.7 229.0,492.7 229.0,496.1 223.4,496.1" fill="#2488b6"/>
<polygon points="235.0,495.2 242.7,495.2 242.7,500.4 235.0,500.4" fill="#283f8f"/>
<polygon points="216.1,487.5 218.7,487.5 218.7,495.2 216.1,495.2" fill="#283f8f"/>
<polygon points="238.4,470.0 241.4,467.8 243.1,470.4 240.1,472.5" fill="#26357e"/>
<polygon points="215.3,473.4 220.4,473.4 220.4,476.4 215.3,476.4" fill="#284291"/>
<polygon points="241.8,479.0 245.2,479.0 245.2,481.1 241.8,481.1" fill="#283a89"/>
<polygon points="245.2,483.2 249.5,483.2 249.5,490.9 245.2,490.9" fill="#247bb1"/>
<polygon points="217.0,465.3 222.1,465.3 222.1,469.6 217.0,469.6" fill="#288eb7"/>
<polygon points="252.9,504.2 259.8,504.2 259.8,509.8 252.9,509.8" fill="#247bb1"/>
<polygon points="262.5,400.4 271.5,401.0 273.4,398.5 276.0,400.4 281.1,399.8 281.8,404.3 279.2,406.8 271.5,407.5 268.9,412.6 258.7,412.6 259.3,408.1 262.5,406.8" fill="#cee3a6"/>
<polygon points="271.5,407.5 279.2,406.8 281.8,410.7 285.0,412.6 287.5,411.3 286.9,415.8 283.0,419.7 282.4,423.5 276.6,424.8 271.5,418.4" fill="#38a8bb"/>
<polygon points="250.9,412.6 259.9,413.0 259.3,417.1 251.6,416.5" fill="#288eb7"/>
<polygon points="277.9,427.4 292.7,426.7 290.7,429.3 290.7,438.9 288.8,444.1 277.9,445.1" fill="#5abdb6"/>
<polygon points="265.1,445.3 277.3,445.3 277.3,471.0 264.4,471.0" fill="#2488b6"/>
<polygon points="257.4,449.2 260.6,449.2 264.4,471.0 257.4,469.7" fill="#d4e5a8"/>
<polygon points="242.6,454.3 249.7,447.9 253.5,451.8 246.5,458.8" fill="#d4e5a8"/>
<polygon points="234.3,462.7 240.0,461.8 240.7,467.2 234.9,467.8" fill="#d4e5a8"/>
<polygon points="240.7,459.5 246.5,458.8 253.5,451.8 256.7,456.9 256.7,474.9 240.7,474.9" fill="#2381b4"/>
<polygon points="227.8,417.7 238.1,415.2 244.5,418.4 250.9,415.8 253.5,427.4 247.1,438.9 240.7,436.4 227.8,423.5" fill="#bddca6"/>
<polygon points="245.2,419.0 246.5,410.7 241.3,397.2 239.4,397.2 242.6,412.6" fill="#5abdb6"/>
<polygon points="252.9,418.1 266.4,417.1 270.2,427.4 263.8,436.4 254.2,436.4" fill="#8eceb0"/>
<polygon points="257.4,436.4 266.4,433.8 271.5,445.3 258.7,446.6" fill="#54bab7"/>
<polygon points="250.9,446.6 252.9,445.3 256.7,449.2 255.4,451.1" fill="#1c1d48"/>
<polygon points="252.2,455.0 253.5,453.7 256.7,457.5 255.8,458.8" fill="#15152e"/>
<polygon points="234.4,506.3 238.2,506.3 238.2,526.8 234.4,526.8" fill="#247bb1"/>
<polygon points="227.1,550.0 234.8,548.2 234.8,553.4 227.1,553.7" fill="#e2ebab"/>
<polygon points="227.1,564.5 231.4,564.5 231.4,578.2 227.1,578.2" fill="#54bab7"/>
<polygon points="232.2,554.2 236.1,554.2 236.1,560.2 232.2,560.2" fill="#5abdb6"/>
<polygon points="239.1,587.1 246.8,585.4 255.3,585.4 257.0,590.2 253.6,600.5 247.6,605.6 245.0,601.8 239.9,603.5" fill="#2575af"/>
<polygon points="247.6,585.4 255.3,585.4 256.7,590.2 248.5,590.5" fill="#4eb7b8"/>
<polygon points="217.3,627.0 221.1,622.7 222.8,615.9 227.1,613.3 227.1,609.0 231.4,609.9 231.4,622.7 229.6,633.8 219.4,631.6" fill="#bddca6"/>
<polygon points="231.4,610.7 239.1,613.3 239.9,617.6 241.6,622.7 236.5,622.7 231.4,622.7" fill="#288eb7"/>
<polygon points="225.4,615.9 231.4,615.9 231.4,622.7 225.4,622.7" fill="#5abdb6"/>
<polygon points="96.8,351.5 179.8,351.5 179.8,384.0 102.8,377.2" fill="url(#gL_0)"/>
<polygon points="85.7,331.8 155.9,331.8 155.9,351.5 85.7,351.5" fill="url(#gL_1)"/>
<polygon points="149.4,306.4 180.2,303.0 193.9,321.2 191.6,349.8 166.5,349.8 163.1,327.0" fill="url(#gL_2)"/>
<polygon points="170.0,319.0 194.0,320.7 192.3,351.5 170.0,351.5" fill="url(#gL_3)"/>
<polygon points="170.0,351.5 204.2,351.5 205.9,390.9 170.0,390.9" fill="url(#gL_4)"/>
<polygon points="192.3,449.5 257.3,449.5 260.7,516.3 214.5,516.3 192.3,473.5" fill="url(#gL_5)"/>
<polygon points="214.5,421.3 238.5,421.3 241.9,441.8 214.5,439.2" fill="url(#gL_6)"/>
<polygon points="264.4,445.3 277.3,445.3 277.3,471.0 264.4,471.0" fill="url(#gL_7)"/>
<polygon points="250.9,410.7 292.0,410.7 292.0,445.3 250.9,445.3" fill="url(#gL_8)"/>
<polygon points="71.1,360.0 101.1,370.3 102.8,390.9 78.8,391.7 70.3,384.0" fill="url(#gL_9)"/>
<polygon points="125.0,378.9 179.8,384.0 179.8,399.4 128.5,388.3" fill="url(#gL_10)"/>
<polygon points="152.4,439.2 179.8,422.1 179.8,476.9 162.7,473.5 155.9,454.6" fill="url(#gL_11)"/>
<polygon points="151.6,468.3 179.8,468.3 179.8,504.3 166.1,505.1" fill="url(#gL_12)"/>
<polygon points="170.0,405.0 215.4,405.0 215.4,430.7 170.0,430.7" fill="url(#gL_13)"/>
<polygon points="227.1,585.0 258.7,585.0 258.7,634.7 216.8,634.7" fill="url(#gL_14)"/>
<path d="M170.0 397.7L180.3 396.0L190.5 399.4L200.8 397.7L209.4 401.1M176.8 390.9L178.6 401.1L175.1 414.8M187.1 390.9L188.8 404.6L185.4 414.8M197.4 390.9L199.1 401.1L204.2 414.8M170.0 406.3L183.7 408.0L195.7 406.3L212.8 409.7M102.8 391.0L104.2 398.7L102.1 406.4L103.8 414.8M109.6 391.7L111.0 399.4L109.0 407.1L110.7 414.8M116.5 392.4L117.9 400.1L115.8 407.8L117.5 414.8M122.5 393.0L123.9 400.7L121.8 408.4L123.5 414.8M128.5 393.6L129.8 401.3L127.8 409.0L129.5 414.8M135.3 394.3L136.7 402.0L134.6 409.7L136.3 414.8M142.2 395.0L143.5 402.7L141.5 410.4L143.2 414.8M149.0 395.7L150.4 403.4L148.3 411.1L150.0 414.8M155.9 396.3L157.2 404.0L155.2 411.7L156.9 414.8M162.7 397.0L164.1 404.7L162.0 412.4L163.7 414.8M169.6 397.7L170.9 405.4L168.9 413.1L170.6 414.8M176.4 398.4L177.8 406.1L175.7 413.8L177.4 414.8M101.1 390.9L128.5 388.3L155.9 391.7L179.8 398.6M101.1 403.7L116.5 404.6L131.9 401.1L149.0 404.6L166.1 402.0L179.8 406.3M135.3 410.1L136.2 430.7L140.5 447.8L136.2 464.9M142.2 410.1L143.9 437.5L149.0 439.2L147.3 452.9M152.4 410.1L153.3 430.7L149.0 439.2M162.7 410.1L161.0 425.5L155.9 439.2L155.9 454.6M171.3 410.1L171.3 425.5L166.1 437.5M115.6 409.3L179.8 409.3M111.4 439.2L121.6 435.8L125.0 444.4L135.3 449.5L136.2 464.9M113.1 441.8L121.6 446.1L119.9 454.6M128.5 459.8L131.9 449.5M121.6 410.1L125.0 422.1L135.3 429.0M116.5 423.8L128.5 430.7L136.2 430.7" fill="none" stroke="#fff" stroke-width="0.4" stroke-opacity="0.7" stroke-linejoin="round" stroke-linecap="round"/>
<path d="M194.0 329.2L204.2 333.5M200.0 328.4L199.1 342.1M212.8 335.2L223.1 342.9L221.4 354.9M202.5 353.2L214.5 349.8L223.1 342.9M223.1 330.1L223.1 342.9M226.5 336.1L238.5 337.8L245.0 346.4M206.8 366.0L202.5 353.2L199.1 342.1" fill="none" stroke="#fff" stroke-width="0.45" stroke-opacity="0.7" stroke-linejoin="round" stroke-linecap="round"/>
</g>
<polygon points="163.6,325.8 171.3,317.3 178.1,323.2 169.6,332.7" fill="#ffffff"/>
<polygon points="157.1,442.8 161.4,443.5 164.3,449.2 161.4,452.8 158.6,448.5" fill="#ffffff"/>
<polygon points="163.1,489.2 167.4,484.1 169.5,482.4 174.2,486.2 178.5,488.8 172.5,490.9 169.1,493.5 164.8,496.9 163.5,495.2" fill="#ffffff"/>
<polygon points="176.4,432.1 180.0,430.0 187.1,429.3 192.8,427.8 202.8,429.3 209.9,429.3 210.6,432.1 214.2,432.8 212.8,436.4 208.5,437.1 197.1,436.4 195.6,439.3 197.1,443.5 194.2,447.8 187.1,449.2 182.8,445.7 178.5,440.7" fill="#ffffff"/>
<polygon points="180.7,477.8 185.0,472.1 191.4,467.1 197.1,463.5 199.9,467.8 204.9,471.3 206.3,476.3 202.8,477.8 198.5,482.0 192.8,486.3 187.8,487.8 183.5,483.5" fill="#ffffff"/>
<polygon points="179.2,419.3 183.5,419.3 183.5,423.6 179.2,423.6" fill="#ffffff"/>
<polygon points="206.8,478.5 214.9,477.5 215.9,488.0 199.2,488.9 200.2,484.2 203.1,479.2" fill="#ffffff"/>
<polygon points="187.4,419.3 190.7,419.3 190.7,426.4 187.4,426.4" fill="#ffffff"/>
<polygon points="80.2,352.9 86.5,352.3 87.4,350.1 91.7,350.6 91.7,352.3 96.3,353.2 95.1,356.6 87.4,357.5 83.1,359.7 80.2,359.2" fill="#727272"/>
<polygon points="145.4,308.1 158.0,324.1 152.3,329.5 148.8,321.2 142.9,313.3" fill="#727272"/>
<polygon points="187.1,335.2 192.3,332.7 204.2,333.5 212.8,335.2 208.5,336.9 200.8,338.7 199.1,342.1 190.5,341.2 187.1,337.8" fill="#727272"/>
<polygon points="208.5,328.4 219.6,327.5 219.6,325.8 230.8,325.8 230.8,322.4 235.9,322.4 235.9,330.9 241.9,330.9 241.9,328.9 256.4,328.9 256.4,336.1 248.7,336.1 248.7,343.8 245.3,343.8 245.3,339.9 241.0,339.9 240.2,336.1 236.8,335.2 235.9,331.8 231.6,330.1 208.5,330.1" fill="#727272"/>
<polygon points="215.4,355.8 226.5,354.9 238.5,354.1 244.8,355.3 244.5,360.0 215.4,360.6" fill="#727272"/>
<polygon points="211.9,360.9 214.5,361.8 212.8,364.8" fill="#727272"/>
<polygon points="215.0,401.7 220.1,396.6 226.6,393.3 227.8,395.0 238.8,395.9 240.7,403.6 242.6,412.6 244.5,418.4 238.1,415.2 228.5,417.7 225.3,412.6 222.7,411.3 220.1,406.2 215.0,406.2" fill="#727272"/>
<polygon points="167.0,505.1 192.3,502.9 193.1,507.7 200.0,508.6 200.0,516.3 175.5,516.3 176.5,523.1 173.4,522.3 171.0,516.3" fill="#727272"/>
<polyline points="262.5,571.4 263.9,576.5 263.9,582.5 261.8,588.5" fill="none" stroke="#247bb1" stroke-width="0.9" stroke-linejoin="round" stroke-linecap="round"/>
</g>
<g>
<defs><clipPath id="clipR">
<polygon points="507.3,299.8 521.9,303.6 545.8,303.2 545.8,414.8 480.8,414.8 479.1,409.7 473.9,406.3 467.1,403.7 462.8,401.1 456.0,400.3 451.7,397.7 448.3,395.1 444.8,390.9 442.3,385.7 437.1,384.0 437.1,377.2 438.0,375.5 437.1,370.3 438.8,367.8 444.0,365.2 441.4,363.5 442.3,360.0 446.2,359.2 446.2,352.9 451.7,352.3 452.5,344.6 451.7,335.2 456.0,331.8 462.8,331.3 470.2,331.8 470.9,318.1 476.5,318.1 477.4,320.7 483.3,319.8 490.2,320.7 490.2,311.3 495.3,311.3 501.3,307.0"/>
<polygon points="536.0,303.2 546.3,303.2 548.0,307.0 551.4,304.4 554.0,308.7 550.6,312.1 552.3,315.5 548.8,319.0 551.4,322.4 556.5,319.8 560.0,322.4 559.1,326.7 566.0,328.4 574.5,329.2 597.6,330.1 601.9,331.8 602.8,335.2 606.2,336.1 607.0,339.9 611.3,339.9 611.0,354.9 604.5,354.1 592.5,354.9 581.4,355.8 581.4,360.6 580.5,364.3 577.9,366.9 572.8,366.0 569.4,370.3 566.8,375.5 569.4,380.6 571.9,390.9 574.5,397.7 577.1,404.6 579.7,408.0 581.4,414.8 536.0,414.8"/>
<polygon points="481.6,409.3 545.8,409.3 545.8,502.6 533.0,505.1 530.4,498.3 527.0,495.7 521.9,488.9 517.6,482.0 523.6,476.9 528.7,473.5 535.6,468.3 528.7,463.2 521.9,454.6 516.7,456.4 513.3,452.9 506.5,459.8 502.2,464.9 494.5,459.8 484.2,456.4 479.9,454.6 479.1,441.8 477.4,439.2 467.9,438.4"/>
<polygon points="536.0,405.0 581.4,405.0 595.1,417.3 609.6,416.6 612.2,427.3 623.3,470.0 623.0,483.7 615.6,484.6 615.6,504.3 625.9,504.3 626.7,514.6 616.5,516.3 604.5,517.1 604.5,524.8 600.2,524.8 600.2,507.7 596.8,506.0 592.5,512.0 589.1,506.0 589.1,497.4 583.1,495.7 580.5,488.9 566.0,489.7 566.0,494.0 565.1,507.7 559.1,507.7 558.3,502.9 536.0,504.3"/>
<polygon points="605.4,397.2 607.3,397.2 612.5,410.7 616.9,415.8 617.6,413.2 624.7,412.6 625.3,408.1 628.5,406.8 628.5,400.4 637.5,401.0 639.4,398.5 642.0,400.4 647.1,399.8 647.8,404.3 645.2,406.8 647.8,410.7 651.0,412.6 653.5,411.3 652.9,415.8 649.0,419.7 648.4,423.5 646.5,427.4 658.7,426.7 656.7,429.3 656.7,438.9 654.8,444.1 643.3,445.3 643.3,471.0 630.4,471.0 629.8,469.7 622.7,469.7 622.7,474.9 606.7,474.9 593.8,436.4 604.1,415.2 608.6,412.6"/>
<polygon points="600.4,506.3 604.2,506.3 604.2,553.4 597.4,553.4 597.4,587.6 605.1,586.8 612.8,585.0 613.6,583.3 614.5,585.0 621.3,585.0 623.0,590.2 619.6,600.5 613.6,605.6 611.0,601.8 605.9,603.5 602.5,609.0 605.1,613.3 605.9,617.6 607.6,622.7 605.9,627.0 603.3,629.6 602.5,635.0 592.2,633.3 585.4,631.6 583.3,627.0 587.1,622.7 588.8,615.9 593.1,613.3 593.1,550.0 600.4,548.2"/>
<polygon points="623.0,591.0 626.5,587.1 631.1,594.5 621.3,602.5 620.0,600.5"/>
<polygon points="608.5,615.9 611.0,609.9 617.9,605.6 621.3,606.4 619.6,610.7 616.2,613.3 615.3,617.6 611.9,621.0"/>
<polygon points="614.5,622.7 623.0,621.0 623.9,624.4 619.6,629.6 615.3,627.8"/>
<polygon points="603.3,605.6 611.9,603.0 607.6,609.0 605.1,609.0"/>
</clipPath>
<pattern id="gR_0" width="3.00" height="3.75" patternUnits="userSpaceOnUse" patternTransform="rotate(0)"><path d="M0 0H3.00 M0 0V3.75" stroke="#fff" stroke-width="0.50" stroke-opacity="0.65" fill="none"/></pattern>
<pattern id="gR_1" width="4.20" height="5.25" patternUnits="userSpaceOnUse" patternTransform="rotate(0)"><path d="M0 0H4.20 M0 0V5.25" stroke="#fff" stroke-width="0.50" stroke-opacity="0.60" fill="none"/></pattern>
<pattern id="gR_2" width="2.60" height="3.25" patternUnits="userSpaceOnUse" patternTransform="rotate(45)"><path d="M0 0H2.60 M0 0V3.25" stroke="#fff" stroke-width="0.50" stroke-opacity="0.60" fill="none"/></pattern>
<pattern id="gR_3" width="2.00" height="2.50" patternUnits="userSpaceOnUse" patternTransform="rotate(45)"><path d="M0 0H2.00 M0 0V2.50" stroke="#fff" stroke-width="0.50" stroke-opacity="0.60" fill="none"/></pattern>
<pattern id="gR_4" width="2.60" height="3.25" patternUnits="userSpaceOnUse" patternTransform="rotate(0)"><path d="M0 0H2.60 M0 0V3.25" stroke="#fff" stroke-width="0.50" stroke-opacity="0.60" fill="none"/></pattern>
<pattern id="gR_5" width="3.90" height="4.88" patternUnits="userSpaceOnUse" patternTransform="rotate(0)"><path d="M0 0H3.90 M0 0V4.88" stroke="#fff" stroke-width="0.70" stroke-opacity="0.80" fill="none"/></pattern>
<pattern id="gR_6" width="2.60" height="3.25" patternUnits="userSpaceOnUse" patternTransform="rotate(0)"><path d="M0 0H2.60 M0 0V3.25" stroke="#fff" stroke-width="0.50" stroke-opacity="0.60" fill="none"/></pattern>
<pattern id="gR_7" width="2.40" height="3.00" patternUnits="userSpaceOnUse" patternTransform="rotate(20)"><path d="M0 0H2.40 M0 0V3.00" stroke="#fff" stroke-width="0.50" stroke-opacity="0.60" fill="none"/></pattern>
<pattern id="gR_8" width="3.20" height="4.00" patternUnits="userSpaceOnUse" patternTransform="rotate(30)"><path d="M0 0H3.20 M0 0V4.00" stroke="#fff" stroke-width="0.50" stroke-opacity="0.55" fill="none"/></pattern>
<pattern id="gR_9" width="3.60" height="4.50" patternUnits="userSpaceOnUse" patternTransform="rotate(10)"><path d="M0 0H3.60 M0 0V4.50" stroke="#fff" stroke-width="0.50" stroke-opacity="0.50" fill="none"/></pattern>
<pattern id="gR_10" width="3.40" height="4.25" patternUnits="userSpaceOnUse" patternTransform="rotate(0)"><path d="M0 0H3.40 M0 0V4.25" stroke="#fff" stroke-width="0.50" stroke-opacity="0.50" fill="none"/></pattern>
<pattern id="gR_11" width="3.00" height="3.75" patternUnits="userSpaceOnUse" patternTransform="rotate(35)"><path d="M0 0H3.00 M0 0V3.75" stroke="#fff" stroke-width="0.50" stroke-opacity="0.55" fill="none"/></pattern>
<pattern id="gR_12" width="3.00" height="3.75" patternUnits="userSpaceOnUse" patternTransform="rotate(35)"><path d="M0 0H3.00 M0 0V3.75" stroke="#fff" stroke-width="0.50" stroke-opacity="0.55" fill="none"/></pattern>
<pattern id="gR_13" width="3.80" height="4.75" patternUnits="userSpaceOnUse" patternTransform="rotate(0)"><path d="M0 0H3.80 M0 0V4.75" stroke="#fff" stroke-width="0.50" stroke-opacity="0.45" fill="none"/></pattern>
<pattern id="gR_14" width="3.00" height="3.75" patternUnits="userSpaceOnUse" patternTransform="rotate(0)"><path d="M0 0H3.00 M0 0V3.75" stroke="#fff" stroke-width="0.50" stroke-opacity="0.60" fill="none"/></pattern>
</defs>
<polygon points="507.3,299.8 521.9,303.6 545.8,303.2 545.8,414.8 480.8,414.8 479.1,409.7 473.9,406.3 467.1,403.7 462.8,401.1 456.0,400.3 451.7,397.7 448.3,395.1 444.8,390.9 442.3,385.7 437.1,384.0 437.1,377.2 438.0,375.5 437.1,370.3 438.8,367.8 444.0,365.2 441.4,363.5 442.3,360.0 446.2,359.2 446.2,352.9 451.7,352.3 452.5,344.6 451.7,335.2 456.0,331.8 462.8,331.3 470.2,331.8 470.9,318.1 476.5,318.1 477.4,320.7 483.3,319.8 490.2,320.7 490.2,311.3 495.3,311.3 501.3,307.0" fill="#bddca6"/>
<polygon points="536.0,303.2 546.3,303.2 548.0,307.0 551.4,304.4 554.0,308.7 550.6,312.1 552.3,315.5 548.8,319.0 551.4,322.4 556.5,319.8 560.0,322.4 559.1,326.7 566.0,328.4 574.5,329.2 597.6,330.1 601.9,331.8 602.8,335.2 606.2,336.1 607.0,339.9 611.3,339.9 611.0,354.9 604.5,354.1 592.5,354.9 581.4,355.8 581.4,360.6 580.5,364.3 577.9,366.9 572.8,366.0 569.4,370.3 566.8,375.5 569.4,380.6 571.9,390.9 574.5,397.7 577.1,404.6 579.7,408.0 581.4,414.8 536.0,414.8" fill="#6ec4b3"/>
<polygon points="481.6,409.3 545.8,409.3 545.8,502.6 533.0,505.1 530.4,498.3 527.0,495.7 521.9,488.9 517.6,482.0 523.6,476.9 528.7,473.5 535.6,468.3 528.7,463.2 521.9,454.6 516.7,456.4 513.3,452.9 506.5,459.8 502.2,464.9 494.5,459.8 484.2,456.4 479.9,454.6 479.1,441.8 477.4,439.2 467.9,438.4" fill="#cee3a6"/>
<polygon points="536.0,405.0 581.4,405.0 595.1,417.3 609.6,416.6 612.2,427.3 623.3,470.0 623.0,483.7 615.6,484.6 615.6,504.3 625.9,504.3 626.7,514.6 616.5,516.3 604.5,517.1 604.5,524.8 600.2,524.8 600.2,507.7 596.8,506.0 592.5,512.0 589.1,506.0 589.1,497.4 583.1,495.7 580.5,488.9 566.0,489.7 566.0,494.0 565.1,507.7 559.1,507.7 558.3,502.9 536.0,504.3" fill="#c6dfa4"/>
<polygon points="605.4,397.2 607.3,397.2 612.5,410.7 616.9,415.8 617.6,413.2 624.7,412.6 625.3,408.1 628.5,406.8 628.5,400.4 637.5,401.0 639.4,398.5 642.0,400.4 647.1,399.8 647.8,404.3 645.2,406.8 647.8,410.7 651.0,412.6 653.5,411.3 652.9,415.8 649.0,419.7 648.4,423.5 646.5,427.4 658.7,426.7 656.7,429.3 656.7,438.9 654.8,444.1 643.3,445.3 643.3,471.0 630.4,471.0 629.8,469.7 622.7,469.7 622.7,474.9 606.7,474.9 593.8,436.4 604.1,415.2 608.6,412.6" fill="#6ec4b3"/>
<polygon points="600.4,506.3 604.2,506.3 604.2,553.4 597.4,553.4 597.4,587.6 605.1,586.8 612.8,585.0 613.6,583.3 614.5,585.0 621.3,585.0 623.0,590.2 619.6,600.5 613.6,605.6 611.0,601.8 605.9,603.5 602.5,609.0 605.1,613.3 605.9,617.6 607.6,622.7 605.9,627.0 603.3,629.6 602.5,635.0 592.2,633.3 585.4,631.6 583.3,627.0 587.1,622.7 588.8,615.9 593.1,613.3 593.1,550.0 600.4,548.2" fill="#60c0b5"/>
<polygon points="623.0,591.0 626.5,587.1 631.1,594.5 621.3,602.5 620.0,600.5" fill="#3caebc"/>
<polygon points="608.5,615.9 611.0,609.9 617.9,605.6 621.3,606.4 619.6,610.7 616.2,613.3 615.3,617.6 611.9,621.0" fill="#93cfaf"/>
<polygon points="614.5,622.7 623.0,621.0 623.9,624.4 619.6,629.6 615.3,627.8" fill="#93cfaf"/>
<polygon points="603.3,605.6 611.9,603.0 607.6,609.0 605.1,609.0" fill="#6ec4b3"/>
<g clip-path="url(#clipR)">
<polygon points="470.9,318.1 476.5,318.1 477.4,320.7 483.3,319.8 483.3,331.8 470.2,331.8" fill="#d7e6a8"/>
<polygon points="483.3,319.8 490.2,320.7 497.9,320.7 497.9,331.8 483.3,331.8" fill="#cee3a6"/>
<polygon points="490.2,320.7 490.2,311.3 495.3,311.3 501.3,307.0 507.3,299.8 510.7,308.7 509.0,313.8 516.7,323.2 519.3,329.2 515.0,334.4 497.9,331.8 497.9,320.7" fill="#a1d3ac"/>
<polygon points="451.7,335.2 456.0,331.8 470.2,331.8 497.9,331.8 515.0,334.4 521.9,351.5 463.7,351.5 451.7,352.3 452.5,344.6" fill="#9cd2ad"/>
<polygon points="451.7,335.2 456.0,331.8 467.9,331.8 467.9,346.4 452.5,346.4" fill="#7bc8b2"/>
<polygon points="497.9,334.4 511.6,335.2 511.6,341.6 497.9,341.2" fill="#93cfaf"/>
<polygon points="501.3,344.6 508.2,344.6 508.2,353.2 501.3,353.2" fill="#d4e5a8"/>
<polygon points="507.3,299.8 521.9,303.6 545.8,303.2 545.8,351.5 521.9,351.5 519.3,329.2 523.9,325.0 512.4,308.4" fill="#67c2b4"/>
<polygon points="519.3,329.2 523.9,325.0 528.7,329.2 532.1,351.5 521.9,351.5" fill="#89ccb0"/>
<polygon points="521.9,310.4 530.4,310.4 530.4,317.3 521.9,317.3" fill="#4eb7b8"/>
<polygon points="528.7,329.2 537.3,317.3 545.8,312.1 545.8,351.5 532.1,351.5" fill="#42b1bb"/>
<polygon points="463.7,351.5 545.8,351.5 545.8,384.0 535.6,384.0 508.2,380.6 491.0,378.9 468.8,375.5 462.8,370.3" fill="#6ec4b3"/>
<polygon points="468.8,351.5 477.4,351.5 477.4,358.7 468.8,358.7" fill="#5abdb6"/>
<polygon points="486.8,355.8 508.2,355.8 508.2,362.1 486.8,362.1" fill="#5abdb6"/>
<polygon points="477.4,363.5 494.5,363.5 494.5,375.5 477.4,375.5" fill="#6ec4b3"/>
<polygon points="509.9,360.9 520.5,360.9 520.5,370.3 515.0,373.7 512.4,368.6" fill="#36a4bb"/>
<polygon points="521.9,353.2 533.0,353.2 533.0,363.5 521.9,363.5" fill="#38a8bb"/>
<polygon points="520.5,363.5 545.8,363.5 545.8,377.2 520.5,377.2" fill="#3caebc"/>
<polygon points="525.3,377.2 535.6,377.2 535.6,383.2 525.3,383.2" fill="#309bb9"/>
<polygon points="494.5,370.3 501.3,370.3 501.3,379.7 494.5,379.7" fill="#54bab7"/>
<polygon points="463.7,366.9 469.7,366.9 469.7,375.5 463.7,375.5" fill="#5abdb6"/>
<polygon points="535.6,351.5 545.8,351.5 545.8,384.0 535.6,384.0" fill="#4eb7b8"/>
<polygon points="437.1,360.0 446.2,359.2 449.1,359.7 462.8,370.3 468.8,375.5 467.1,384.0 444.8,390.9 442.3,385.7 437.1,384.0" fill="#a1d3ac"/>
<polygon points="437.1,363.5 446.5,363.5 447.4,370.3 438.0,371.2" fill="#c6dfa4"/>
<polygon points="508.2,380.6 535.6,384.0 545.8,384.0 545.8,397.7 521.9,390.9 494.5,387.4 491.0,378.9" fill="#98d1ae"/>
<polygon points="467.1,390.9 494.5,388.3 521.9,391.7 545.8,398.6 545.8,414.8 480.8,414.8 479.1,409.7 473.9,406.3" fill="#cee3a6"/>
<polygon points="548.0,307.0 551.4,304.4 554.0,308.7 550.6,312.1 552.3,315.5 548.8,319.0 542.8,313.8" fill="#93cfaf"/>
<polygon points="536.0,320.7 548.8,319.0 551.4,322.4 556.5,319.8 560.0,322.4 559.1,326.7 553.1,335.2 553.1,337.8 556.5,341.2 558.3,351.5 546.3,353.2 536.0,351.5" fill="#42b1bb"/>
<polygon points="539.4,325.8 551.4,329.2 553.1,344.6 542.8,346.4" fill="#36a4bb"/>
<polygon points="559.1,326.7 566.0,328.4 574.5,329.2 589.1,330.1 589.1,342.9 578.8,335.2 570.2,333.5 558.3,332.7" fill="#67c2b4"/>
<polygon points="565.1,342.1 566.8,338.7 574.5,336.9 578.8,335.2 589.1,342.9 587.4,354.9 581.4,355.8 581.4,360.6 580.5,364.3 577.9,366.9 572.8,366.0 568.5,353.2" fill="#89ccb0"/>
<polygon points="556.5,341.2 565.1,342.1 568.5,353.2 572.8,366.0 569.4,370.3 558.3,351.5" fill="#54bab7"/>
<polygon points="589.1,330.1 597.6,330.1 601.9,331.8 602.8,335.2 606.2,336.1 607.0,339.9 611.3,339.9 611.0,354.9 604.5,354.1 592.5,354.9 587.4,354.9 589.1,342.9" fill="#a1d3ac"/>
<polygon points="597.6,341.2 605.3,341.2 605.3,346.4 597.6,346.4" fill="#7bc8b2"/>
<polygon points="536.0,351.5 558.3,351.5 569.4,370.3 566.8,375.5 569.4,380.6 571.9,390.9 536.0,390.9" fill="#5abdb6"/>
<polygon points="553.1,358.3 568.5,360.0 567.7,377.2 554.8,377.2" fill="#3caebc"/>
<polygon points="536.0,363.5 551.4,366.9 551.4,384.0 536.0,384.0" fill="#48b4ba"/>
<polygon points="536.0,384.0 570.2,384.0 571.9,390.9 574.5,397.7 536.0,397.7" fill="#93cfaf"/>
<polygon points="536.0,395.1 574.0,396.3 577.1,404.6 579.7,408.0 581.4,414.8 536.0,414.8" fill="#c1dea5"/>
<polygon points="506.5,410.1 518.4,410.1 519.3,430.7 515.0,439.2 509.9,437.5 508.2,422.1" fill="#dce9aa"/>
<polygon points="528.7,437.5 537.3,437.5 537.3,445.2 528.7,445.2" fill="#eaefaf"/>
<polygon points="517.6,482.0 523.6,476.9 528.7,473.5 535.6,468.3 545.8,473.5 545.8,502.6 533.0,505.1 530.4,498.3 527.0,495.7 521.9,488.9" fill="#a1d3ac"/>
<polygon points="519.7,478.5 524.4,478.1 526.1,480.7 521.4,483.2" fill="#93cfaf"/>
<polygon points="542.4,478.6 545.8,477.8 545.8,485.5 543.3,484.6" fill="#7bc8b2"/>
<polygon points="535.6,452.9 545.8,449.5 545.8,473.5 539.0,470.0" fill="#d4e5a8"/>
<polygon points="536.0,405.0 581.4,405.0 587.4,409.3 590.8,413.6 595.1,417.3 595.9,422.1 582.2,422.1 577.1,430.7 553.1,429.0 542.0,430.7 536.0,430.7" fill="#c9e0a5"/>
<polygon points="536.0,430.7 542.0,430.7 542.8,437.5 546.3,440.9 550.6,447.8 561.7,446.1 560.0,454.6 553.1,464.9 546.3,473.5 536.0,478.6" fill="#bddca6"/>
<polygon points="563.4,439.2 572.8,439.2 578.8,438.4 587.4,440.9 595.9,441.5 593.3,450.4 587.4,450.4 563.4,448.7" fill="#a1d3ac"/>
<polygon points="595.9,441.5 607.9,441.8 607.9,450.4 593.3,450.4" fill="#6ec4b3"/>
<polygon points="582.2,422.1 603.6,422.1 604.5,437.5 592.5,439.2 580.5,435.0 577.1,430.7" fill="#3caebc"/>
<polygon points="603.6,422.1 612.2,427.3 616.5,444.4 607.9,441.8 604.5,437.5" fill="#6ec4b3"/>
<polygon points="604.5,439.2 616.5,444.4 621.6,456.4 607.9,456.4" fill="#5abdb6"/>
<polygon points="548.8,445.7 553.1,449.2 560.2,447.8 563.1,443.5 563.1,450.7 558.8,450.7 557.4,457.8 563.1,463.5 557.4,467.1 551.0,472.1 546.7,477.8 540.3,469.2 544.5,457.8" fill="#93cfaf"/>
<polygon points="558.8,450.7 575.9,450.7 573.1,462.1 563.1,462.1 557.4,457.8" fill="#6ec4b3"/>
<polygon points="560.9,462.4 573.1,462.1 575.9,450.7 590.2,452.1 590.2,463.5 581.6,472.1 573.1,477.8 570.9,471.3 565.9,467.8 563.1,463.5" fill="#38a8bb"/>
<polygon points="575.9,450.7 615.9,449.2 615.9,463.5 590.2,463.5 590.2,452.1" fill="#3caebc"/>
<polygon points="581.6,472.1 590.2,463.5 615.9,463.5 615.9,472.1" fill="#288eb7"/>
<polygon points="580.5,470.9 607.9,470.9 623.3,470.0 623.0,483.7 615.6,484.6 615.6,504.3 625.9,504.3 626.7,514.6 616.5,516.3 604.5,517.1 604.5,524.8 600.2,524.8 600.2,507.7 596.8,506.0 592.5,512.0 589.1,506.0 589.1,497.4 583.1,495.7 580.5,488.9" fill="#2384b5"/>
<polygon points="585.6,473.5 604.5,472.6 614.7,476.9 613.9,500.9 601.0,506.0 587.4,494.0" fill="#247bb1"/>
<polygon points="599.3,473.5 613.0,476.9 613.9,514.6 601.0,516.3" fill="#2762a6"/>
<polygon points="589.1,497.4 596.8,498.3 596.8,506.0 592.5,512.0 589.1,506.0" fill="#288eb7"/>
<polygon points="599.3,459.8 606.2,459.8 605.3,470.0 598.5,468.3" fill="#afd8a9"/>
<polygon points="604.5,456.4 621.6,456.4 623.3,470.0 607.9,470.9" fill="#2488b6"/>
<polygon points="605.3,470.9 608.8,464.9 611.3,467.5 607.9,473.5" fill="#256fac"/>
<polygon points="536.0,478.6 546.3,473.5 553.1,482.0 556.5,485.5 566.0,489.7 566.0,494.0 565.1,507.7 558.3,502.9 536.0,504.3" fill="#aad6aa"/>
<polygon points="542.4,480.7 547.1,477.7 551.4,480.7 546.2,485.4" fill="#89ccb0"/>
<polygon points="570.9,471.3 573.1,477.8 580.9,476.3 580.2,472.1" fill="#48b4ba"/>
<polygon points="589.4,477.3 599.2,477.3 599.2,483.2 589.4,483.2" fill="#2488b6"/>
<polygon points="589.0,485.0 595.8,485.0 595.8,489.2 589.0,489.2" fill="#288eb7"/>
<polygon points="589.4,492.7 595.0,492.7 595.0,496.1 589.4,496.1" fill="#288eb7"/>
<polygon points="601.0,495.2 608.7,495.2 608.7,500.4 601.0,500.4" fill="#27569f"/>
<polygon points="582.1,487.5 584.7,487.5 584.7,495.2 582.1,495.2" fill="#2762a6"/>
<polygon points="604.4,470.0 607.4,467.8 609.1,470.4 606.1,472.5" fill="#256fac"/>
<polygon points="581.3,473.4 586.4,473.4 586.4,476.4 581.3,476.4" fill="#256fac"/>
<polygon points="607.8,479.0 611.2,479.0 611.2,481.1 607.8,481.1" fill="#2762a6"/>
<polygon points="611.2,483.2 615.5,483.2 615.5,490.9 611.2,490.9" fill="#2381b4"/>
<polygon points="583.0,465.3 588.1,465.3 588.1,469.6 583.0,469.6" fill="#309bb9"/>
<polygon points="618.9,504.2 625.8,504.2 625.8,509.8 618.9,509.8" fill="#247bb1"/>
<polygon points="628.5,400.4 637.5,401.0 639.4,398.5 642.0,400.4 647.1,399.8 647.8,404.3 645.2,406.8 637.5,407.5 634.9,412.6 624.7,412.6 625.3,408.1 628.5,406.8" fill="#98d1ae"/>
<polygon points="637.5,407.5 645.2,406.8 647.8,410.7 651.0,412.6 653.5,411.3 652.9,415.8 649.0,419.7 648.4,423.5 642.6,424.8 637.5,418.4" fill="#5abdb6"/>
<polygon points="616.9,412.6 625.9,413.0 625.3,417.1 617.6,416.5" fill="#54bab7"/>
<polygon points="643.9,427.4 658.7,426.7 656.7,429.3 656.7,438.9 654.8,444.1 643.9,445.1" fill="#60c0b5"/>
<polygon points="631.1,445.3 643.3,445.3 643.3,471.0 630.4,471.0" fill="#3caebc"/>
<polygon points="623.4,449.2 626.6,449.2 630.4,471.0 623.4,469.7" fill="#6ec4b3"/>
<polygon points="608.6,454.3 615.7,447.9 619.5,451.8 612.5,458.8" fill="#afd8a9"/>
<polygon points="600.3,462.7 606.0,461.8 606.7,467.2 600.9,467.8" fill="#7bc8b2"/>
<polygon points="606.7,459.5 612.5,458.8 619.5,451.8 622.7,456.9 622.7,474.9 606.7,474.9" fill="#329eba"/>
<polygon points="593.8,417.7 604.1,415.2 610.5,418.4 616.9,415.8 619.5,427.4 613.1,438.9 606.7,436.4 593.8,423.5" fill="#a1d3ac"/>
<polygon points="611.2,419.0 612.5,410.7 607.3,397.2 605.4,397.2 608.6,412.6" fill="#6ec4b3"/>
<polygon points="618.9,418.1 632.4,417.1 636.2,427.4 629.8,436.4 620.2,436.4" fill="#7bc8b2"/>
<polygon points="623.4,436.4 632.4,433.8 637.5,445.3 624.7,446.6" fill="#60c0b5"/>
<polygon points="616.9,446.6 618.9,445.3 622.7,449.2 621.4,451.1" fill="#3caebc"/>
<polygon points="618.2,455.0 619.5,453.7 622.7,457.5 621.8,458.8" fill="#3caebc"/>
<polygon points="600.4,506.3 604.2,506.3 604.2,526.8 600.4,526.8" fill="#38a8bb"/>
<polygon points="593.1,550.0 600.8,548.2 600.8,553.4 593.1,553.7" fill="#6ec4b3"/>
<polygon points="593.1,564.5 597.4,564.5 597.4,578.2 593.1,578.2" fill="#309bb9"/>
<polygon points="598.2,554.2 602.1,554.2 602.1,560.2 598.2,560.2" fill="#5abdb6"/>
<polygon points="605.1,587.1 612.8,585.4 621.3,585.4 623.0,590.2 619.6,600.5 613.6,605.6 611.0,601.8 605.9,603.5" fill="#329eba"/>
<polygon points="613.6,585.4 621.3,585.4 622.7,590.2 614.5,590.5" fill="#4eb7b8"/>
<polygon points="583.3,627.0 587.1,622.7 588.8,615.9 593.1,613.3 593.1,609.0 597.4,609.9 597.4,622.7 595.6,633.8 585.4,631.6" fill="#afd8a9"/>
<polygon points="597.4,610.7 605.1,613.3 605.9,617.6 607.6,622.7 602.5,622.7 597.4,622.7" fill="#38a8bb"/>
<polygon points="591.4,615.9 597.4,615.9 597.4,622.7 591.4,622.7" fill="#6ec4b3"/>
<polygon points="462.8,351.5 545.8,351.5 545.8,384.0 468.8,377.2" fill="url(#gR_0)"/>
<polygon points="451.7,331.8 521.9,331.8 521.9,351.5 451.7,351.5" fill="url(#gR_1)"/>
<polygon points="515.4,306.4 546.2,303.0 559.9,321.2 557.6,349.8 532.5,349.8 529.1,327.0" fill="url(#gR_2)"/>
<polygon points="536.0,319.0 560.0,320.7 558.3,351.5 536.0,351.5" fill="url(#gR_3)"/>
<polygon points="536.0,351.5 570.2,351.5 571.9,390.9 536.0,390.9" fill="url(#gR_4)"/>
<polygon points="558.3,449.5 623.3,449.5 626.7,516.3 580.5,516.3 558.3,473.5" fill="url(#gR_5)"/>
<polygon points="580.5,421.3 604.5,421.3 607.9,441.8 580.5,439.2" fill="url(#gR_6)"/>
<polygon points="630.4,445.3 643.3,445.3 643.3,471.0 630.4,471.0" fill="url(#gR_7)"/>
<polygon points="616.9,410.7 658.0,410.7 658.0,445.3 616.9,445.3" fill="url(#gR_8)"/>
<polygon points="437.1,360.0 467.1,370.3 468.8,390.9 444.8,391.7 436.3,384.0" fill="url(#gR_9)"/>
<polygon points="491.0,378.9 545.8,384.0 545.8,399.4 494.5,388.3" fill="url(#gR_10)"/>
<polygon points="518.4,439.2 545.8,422.1 545.8,476.9 528.7,473.5 521.9,454.6" fill="url(#gR_11)"/>
<polygon points="517.6,468.3 545.8,468.3 545.8,504.3 532.1,505.1" fill="url(#gR_12)"/>
<polygon points="536.0,405.0 581.4,405.0 581.4,430.7 536.0,430.7" fill="url(#gR_13)"/>
<polygon points="593.1,585.0 624.7,585.0 624.7,634.7 582.8,634.7" fill="url(#gR_14)"/>
<path d="M536.0 397.7L546.3 396.0L556.5 399.4L566.8 397.7L575.4 401.1M542.8 390.9L544.6 401.1L541.1 414.8M553.1 390.9L554.8 404.6L551.4 414.8M563.4 390.9L565.1 401.1L570.2 414.8M536.0 406.3L549.7 408.0L561.7 406.3L578.8 409.7M468.8 391.0L470.2 398.7L468.1 406.4L469.8 414.8M475.6 391.7L477.0 399.4L475.0 407.1L476.7 414.8M482.5 392.4L483.9 400.1L481.8 407.8L483.5 414.8M488.5 393.0L489.9 400.7L487.8 408.4L489.5 414.8M494.5 393.6L495.8 401.3L493.8 409.0L495.5 414.8M501.3 394.3L502.7 402.0L500.6 409.7L502.3 414.8M508.2 395.0L509.5 402.7L507.5 410.4L509.2 414.8M515.0 395.7L516.4 403.4L514.3 411.1L516.0 414.8M521.9 396.3L523.2 404.0L521.2 411.7L522.9 414.8M528.7 397.0L530.1 404.7L528.0 412.4L529.7 414.8M535.6 397.7L536.9 405.4L534.9 413.1L536.6 414.8M542.4 398.4L543.8 406.1L541.7 413.8L543.4 414.8M467.1 390.9L494.5 388.3L521.9 391.7L545.8 398.6M467.1 403.7L482.5 404.6L497.9 401.1L515.0 404.6L532.1 402.0L545.8 406.3M501.3 410.1L502.2 430.7L506.5 447.8L502.2 464.9M508.2 410.1L509.9 437.5L515.0 439.2L513.3 452.9M518.4 410.1L519.3 430.7L515.0 439.2M528.7 410.1L527.0 425.5L521.9 439.2L521.9 454.6M537.3 410.1L537.3 425.5L532.1 437.5M481.6 409.3L545.8 409.3M477.4 439.2L487.6 435.8L491.0 444.4L501.3 449.5L502.2 464.9M479.1 441.8L487.6 446.1L485.9 454.6M494.5 459.8L497.9 449.5M487.6 410.1L491.0 422.1L501.3 429.0M482.5 423.8L494.5 430.7L502.2 430.7" fill="none" stroke="#fff" stroke-width="0.4" stroke-opacity="0.7" stroke-linejoin="round" stroke-linecap="round"/>
<path d="M560.0 329.2L570.2 333.5M566.0 328.4L565.1 342.1M578.8 335.2L589.1 342.9L587.4 354.9M568.5 353.2L580.5 349.8L589.1 342.9M589.1 330.1L589.1 342.9M592.5 336.1L604.5 337.8L611.0 346.4M572.8 366.0L568.5 353.2L565.1 342.1" fill="none" stroke="#fff" stroke-width="0.45" stroke-opacity="0.7" stroke-linejoin="round" stroke-linecap="round"/>
</g>
<polygon points="529.6,325.8 537.3,317.3 544.1,323.2 535.6,332.7" fill="#ffffff"/>
<polygon points="523.1,442.8 527.4,443.5 530.3,449.2 527.4,452.8 524.6,448.5" fill="#ffffff"/>
<polygon points="529.1,489.2 533.4,484.1 535.5,482.4 540.2,486.2 544.5,488.8 538.5,490.9 535.1,493.5 530.8,496.9 529.5,495.2" fill="#ffffff"/>
<polygon points="542.4,432.1 546.0,430.0 553.1,429.3 558.8,427.8 568.8,429.3 575.9,429.3 576.6,432.1 580.2,432.8 578.8,436.4 574.5,437.1 563.1,436.4 561.6,439.3 563.1,443.5 560.2,447.8 553.1,449.2 548.8,445.7 544.5,440.7" fill="#ffffff"/>
<polygon points="546.7,477.8 551.0,472.1 557.4,467.1 563.1,463.5 565.9,467.8 570.9,471.3 572.3,476.3 568.8,477.8 564.5,482.0 558.8,486.3 553.8,487.8 549.5,483.5" fill="#ffffff"/>
<polygon points="545.2,419.3 549.5,419.3 549.5,423.6 545.2,423.6" fill="#ffffff"/>
<polygon points="572.8,478.5 580.9,477.5 581.9,488.0 565.2,488.9 566.2,484.2 569.1,479.2" fill="#ffffff"/>
<polygon points="553.4,419.3 556.7,419.3 556.7,426.4 553.4,426.4" fill="#ffffff"/>
<polygon points="446.2,352.9 452.5,352.3 453.4,350.1 457.7,350.6 457.7,352.3 462.3,353.2 461.1,356.6 453.4,357.5 449.1,359.7 446.2,359.2" fill="#727272"/>
<polygon points="511.4,308.1 524.0,324.1 518.3,329.5 514.8,321.2 508.9,313.3" fill="#727272"/>
<polygon points="553.1,335.2 558.3,332.7 570.2,333.5 578.8,335.2 574.5,336.9 566.8,338.7 565.1,342.1 556.5,341.2 553.1,337.8" fill="#727272"/>
<polygon points="574.5,328.4 585.6,327.5 585.6,325.8 596.8,325.8 596.8,322.4 601.9,322.4 601.9,330.9 607.9,330.9 607.9,328.9 622.4,328.9 622.4,336.1 614.7,336.1 614.7,343.8 611.3,343.8 611.3,339.9 607.0,339.9 606.2,336.1 602.8,335.2 601.9,331.8 597.6,330.1 574.5,330.1" fill="#727272"/>
<polygon points="581.4,355.8 592.5,354.9 604.5,354.1 610.8,355.3 610.5,360.0 581.4,360.6" fill="#727272"/>
<polygon points="577.9,360.9 580.5,361.8 578.8,364.8" fill="#727272"/>
<polygon points="581.0,401.7 586.1,396.6 592.6,393.3 593.8,395.0 604.8,395.9 606.7,403.6 608.6,412.6 610.5,418.4 604.1,415.2 594.5,417.7 591.3,412.6 588.7,411.3 586.1,406.2 581.0,406.2" fill="#727272"/>
<polygon points="533.0,505.1 558.3,502.9 559.1,507.7 566.0,508.6 566.0,516.3 541.5,516.3 542.5,523.1 539.4,522.3 537.0,516.3" fill="#727272"/>
<polygon points="450.8,388.3 455.4,385.7 456.1,390.9 451.7,392.9" fill="#727272"/>
<polyline points="628.5,571.4 629.9,576.5 629.9,582.5 627.8,588.5" fill="none" stroke="#48b4ba" stroke-width="0.9" stroke-linejoin="round" stroke-linecap="round"/>
</g>
</svg></body></html>
